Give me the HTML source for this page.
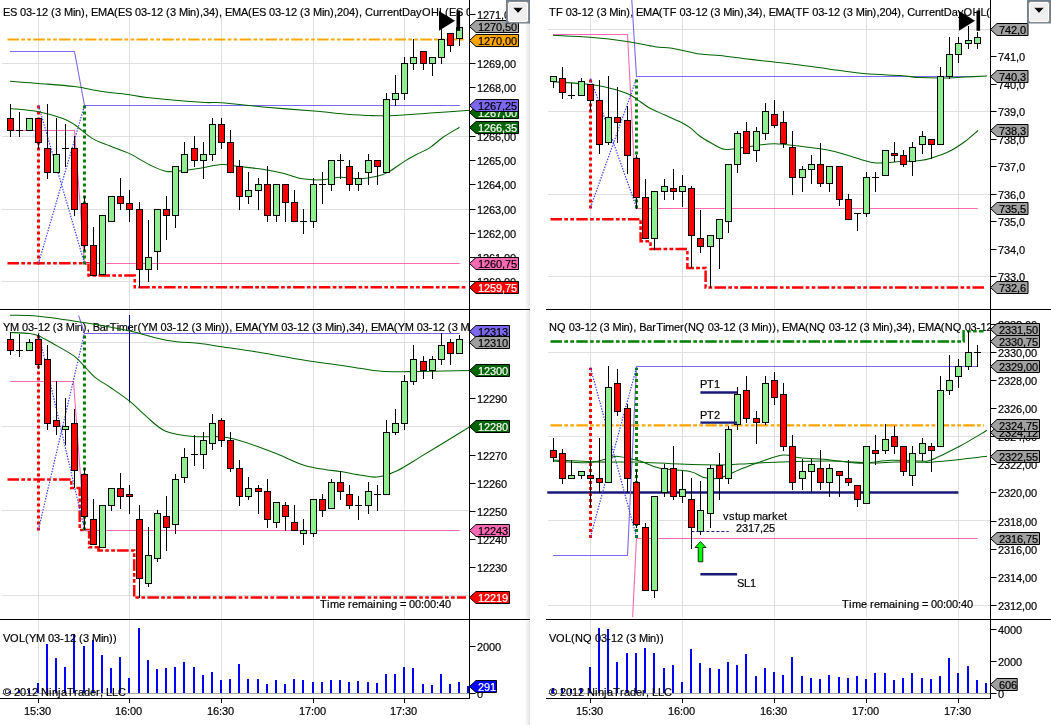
<!DOCTYPE html>
<html><head><meta charset="utf-8"><title>NinjaTrader charts</title>
<style>
html,body{margin:0;padding:0;background:#fff;overflow:hidden;}
svg{display:block;}
text{font-family:'Liberation Sans', Arial, sans-serif;}
</style></head>
<body>
<svg width="1051" height="725" viewBox="0 0 1051 725" font-family="'Liberation Sans', Arial, sans-serif" shape-rendering="auto">
<defs>
<clipPath id="cES"><rect x="0" y="0" width="469.5" height="309"/></clipPath>
<clipPath id="cYM"><rect x="0" y="310" width="469.5" height="309"/></clipPath>
<clipPath id="cTF"><rect x="546" y="0" width="444.5" height="309"/></clipPath>
<clipPath id="cNQ"><rect x="546" y="310" width="444.5" height="307"/></clipPath>
<linearGradient id="sh" x1="0" x2="1" y1="0" y2="0"><stop offset="0" stop-color="#fff"/><stop offset="1" stop-color="#e2e2e2"/></linearGradient>
</defs>
<rect x="0" y="0" width="1051" height="725" fill="#fff"/>
<rect x="525" y="0" width="5" height="725" fill="url(#sh)"/>
<g clip-path="url(#cES)">
<line x1="38.5" y1="16" x2="38.5" y2="309" stroke="#dfdfdf" stroke-width="1"/>
<line x1="129.5" y1="16" x2="129.5" y2="309" stroke="#dfdfdf" stroke-width="1"/>
<line x1="221.5" y1="16" x2="221.5" y2="309" stroke="#dfdfdf" stroke-width="1"/>
<line x1="313.5" y1="16" x2="313.5" y2="309" stroke="#dfdfdf" stroke-width="1"/>
<line x1="404.5" y1="16" x2="404.5" y2="309" stroke="#dfdfdf" stroke-width="1"/>
<line x1="2" y1="63.5" x2="469.5" y2="63.5" stroke="#dfdfdf" stroke-width="1"/>
<line x1="2" y1="136.5" x2="469.5" y2="136.5" stroke="#dfdfdf" stroke-width="1"/>
<line x1="2" y1="209.5" x2="469.5" y2="209.5" stroke="#dfdfdf" stroke-width="1"/>
<line x1="2" y1="281.5" x2="469.5" y2="281.5" stroke="#dfdfdf" stroke-width="1"/>
<text x="3 10 17 20 26 32 36 42 48 51 55 61 64 73 75 81 85 88 91 98 107 114 118 125 132 135 141 147 151 157 163 166 170 176 179 188 190 196 200 203 209 215 219 222 225 232 241 248 252 259 266 269 275 281 285 291 297 300 304 310 313 322 324 330 334 337 343 349 355 359 362 365 373 379 383 387 393 399 402 410 416 422 431 439 445 449 456 463 466 472 478 482 488 494 497 501 507 510 519 521 527 531" y="16" font-size="11" fill="#000" stroke="#000" stroke-width="0.18" >ES 03-12 (3 Min), EMA(ES 03-12 (3 Min),34), EMA(ES 03-12 (3 Min),204), CurrentDayOHL(ES 03-12 (3 Min))</text>
<line x1="7.5" y1="39.5" x2="466" y2="39.5" stroke="#ffa500" stroke-width="2.2" stroke-dasharray="11.5,2.3,3.7,2.3,3.7,2.3" stroke-linecap="butt"/>
<polyline points="7.5,263.3 88.5,263.3 88.5,275.5 134.7,275.5 134.7,287.3 466.0,287.3" fill="none" stroke="#ff0000" stroke-width="2.5" stroke-dasharray="11.5,2.3,3.7,2.3,3.7,2.3"/>
<polyline points="10.0,51.5 74.5,51.5 84.5,105.5 459.8,105.5" fill="none" stroke="#7b68ee" stroke-width="1.1" stroke-linejoin="round" />
<polyline points="10.0,130.5 74.5,130.5 84.5,263.5 459.8,263.5" fill="none" stroke="#ff69b4" stroke-width="1.1" stroke-linejoin="round" />
<line x1="38.5" y1="264.5" x2="38.5" y2="105.5" stroke="#ff0000" stroke-width="3" stroke-dasharray="3,3"/>
<line x1="84.5" y1="264.5" x2="84.5" y2="105.5" stroke="#008000" stroke-width="3" stroke-dasharray="3,3"/>
<line x1="38.5" y1="105.5" x2="84.5" y2="263.5" stroke="#3a3aff" stroke-width="1.2" stroke-dasharray="1.4,1.4"/>
<line x1="38.5" y1="263.5" x2="84.5" y2="105.5" stroke="#3a3aff" stroke-width="1.2" stroke-dasharray="1.4,1.4"/>
<path d="M10.0,81.3 C14.7,81.7 27.7,82.5 38.4,83.4 C49.1,84.3 63.7,85.2 74.4,86.6 C85.1,88.0 93.5,90.2 102.7,91.6 C111.9,93.0 122.2,93.8 129.6,94.8 C136.9,95.8 134.9,96.2 146.8,97.5 C158.8,98.8 188.8,101.4 201.3,102.3 C213.8,103.2 211.3,101.9 221.6,102.7 C231.9,103.5 247.6,105.5 262.9,106.9 C278.2,108.3 299.6,109.9 313.6,111.1 C327.6,112.3 337.4,113.5 346.8,114.3 C356.2,115.0 362.0,115.4 370.0,115.6 C378.0,115.8 385.0,116.0 395.0,115.6 C405.0,115.2 417.5,114.0 430.0,113.1 C442.5,112.2 463.3,110.7 470.0,110.2" fill="none" stroke="#006400" stroke-width="1.05"/>
<path d="M10.0,108.4 C14.7,109.0 29.6,110.0 38.4,111.7 C47.2,113.4 56.8,116.2 62.9,118.4 C69.0,120.6 70.1,121.7 75.0,125.0 C79.9,128.3 86.4,134.9 92.2,138.4 C98.0,141.9 103.8,143.5 110.0,146.0 C116.2,148.5 122.9,150.4 129.6,153.6 C136.3,156.8 143.8,162.0 150.0,165.0 C156.2,168.0 160.9,170.5 166.7,171.4 C172.5,172.3 179.4,170.8 185.0,170.3 C190.6,169.8 193.9,169.2 200.0,168.3 C206.1,167.4 215.0,164.9 221.6,164.6 C228.2,164.3 232.9,165.8 239.8,166.6 C246.7,167.4 255.5,168.2 262.9,169.3 C270.2,170.5 277.3,171.9 283.9,173.5 C290.5,175.1 296.4,177.8 302.7,178.8 C309.0,179.9 315.3,180.1 321.6,179.8 C327.9,179.6 334.2,177.5 340.5,177.3 C346.8,177.1 353.0,179.0 359.3,178.8 C365.6,178.6 373.3,177.2 378.2,176.1 C383.1,174.9 384.3,174.3 388.7,171.9 C393.1,169.5 399.8,164.3 404.4,161.4 C408.9,158.5 411.8,156.9 416.0,154.7 C420.2,152.4 425.1,150.8 429.6,147.9 C434.1,145.0 438.1,140.8 443.1,137.3 C448.1,133.9 456.8,128.9 459.5,127.2" fill="none" stroke="#006400" stroke-width="1.05"/>
<line x1="10.5" y1="104" x2="10.5" y2="137" stroke="#000" stroke-width="1"/>
<rect x="7.5" y="118.5" width="6" height="12" fill="#ff0000" stroke="#000" stroke-width="1"/>
<line x1="19.5" y1="112" x2="19.5" y2="137" stroke="#000" stroke-width="1"/>
<line x1="16" y1="130.5" x2="23" y2="130.5" stroke="#000" stroke-width="1"/>
<line x1="29.5" y1="118" x2="29.5" y2="131" stroke="#000" stroke-width="1"/>
<rect x="26.5" y="118.5" width="6" height="12" fill="#90ee90" stroke="#000" stroke-width="1"/>
<line x1="38.5" y1="118" x2="38.5" y2="149" stroke="#000" stroke-width="1"/>
<rect x="35.5" y="118.5" width="6" height="24" fill="#ff0000" stroke="#000" stroke-width="1"/>
<line x1="47.5" y1="104" x2="47.5" y2="179" stroke="#000" stroke-width="1"/>
<rect x="44.5" y="148.5" width="6" height="24" fill="#ff0000" stroke="#000" stroke-width="1"/>
<line x1="56.5" y1="118" x2="56.5" y2="173" stroke="#000" stroke-width="1"/>
<rect x="53.5" y="154.5" width="6" height="18" fill="#90ee90" stroke="#000" stroke-width="1"/>
<line x1="65.5" y1="124" x2="65.5" y2="167" stroke="#000" stroke-width="1"/>
<line x1="62" y1="148.5" x2="69" y2="148.5" stroke="#000" stroke-width="1"/>
<line x1="74.5" y1="136" x2="74.5" y2="216" stroke="#000" stroke-width="1"/>
<rect x="71.5" y="148.5" width="6" height="61" fill="#ff0000" stroke="#000" stroke-width="1"/>
<line x1="84.5" y1="196" x2="84.5" y2="251" stroke="#000" stroke-width="1"/>
<rect x="81.5" y="203.5" width="6" height="42" fill="#ff0000" stroke="#000" stroke-width="1"/>
<line x1="93.5" y1="227" x2="93.5" y2="276" stroke="#000" stroke-width="1"/>
<rect x="90.5" y="245.5" width="6" height="30" fill="#ff0000" stroke="#000" stroke-width="1"/>
<line x1="102.5" y1="215" x2="102.5" y2="275" stroke="#000" stroke-width="1"/>
<rect x="99.5" y="215.5" width="6" height="59" fill="#90ee90" stroke="#000" stroke-width="1"/>
<line x1="111.5" y1="196" x2="111.5" y2="222" stroke="#000" stroke-width="1"/>
<rect x="108.5" y="196.5" width="6" height="25" fill="#90ee90" stroke="#000" stroke-width="1"/>
<line x1="120.5" y1="178" x2="120.5" y2="210" stroke="#000" stroke-width="1"/>
<rect x="117.5" y="196.5" width="6" height="7" fill="#ff0000" stroke="#000" stroke-width="1"/>
<line x1="129.5" y1="190" x2="129.5" y2="222" stroke="#000" stroke-width="1"/>
<rect x="126.5" y="203.5" width="6" height="6" fill="#ff0000" stroke="#000" stroke-width="1"/>
<line x1="139.5" y1="202" x2="139.5" y2="288" stroke="#000" stroke-width="1"/>
<rect x="136.5" y="209.5" width="6" height="60" fill="#ff0000" stroke="#000" stroke-width="1"/>
<line x1="148.5" y1="220" x2="148.5" y2="282" stroke="#000" stroke-width="1"/>
<rect x="145.5" y="257.5" width="6" height="12" fill="#90ee90" stroke="#000" stroke-width="1"/>
<line x1="157.5" y1="209" x2="157.5" y2="270" stroke="#000" stroke-width="1"/>
<rect x="154.5" y="209.5" width="6" height="42" fill="#90ee90" stroke="#000" stroke-width="1"/>
<line x1="166.5" y1="196" x2="166.5" y2="240" stroke="#000" stroke-width="1"/>
<rect x="163.5" y="209.5" width="6" height="6" fill="#ff0000" stroke="#000" stroke-width="1"/>
<line x1="175.5" y1="166" x2="175.5" y2="228" stroke="#000" stroke-width="1"/>
<rect x="172.5" y="166.5" width="6" height="49" fill="#90ee90" stroke="#000" stroke-width="1"/>
<line x1="184.5" y1="142" x2="184.5" y2="173" stroke="#000" stroke-width="1"/>
<rect x="181.5" y="154.5" width="6" height="18" fill="#90ee90" stroke="#000" stroke-width="1"/>
<line x1="194.5" y1="136" x2="194.5" y2="167" stroke="#000" stroke-width="1"/>
<rect x="191.5" y="148.5" width="6" height="12" fill="#ff0000" stroke="#000" stroke-width="1"/>
<line x1="203.5" y1="142" x2="203.5" y2="179" stroke="#000" stroke-width="1"/>
<rect x="200.5" y="154.5" width="6" height="6" fill="#90ee90" stroke="#000" stroke-width="1"/>
<line x1="212.5" y1="118" x2="212.5" y2="161" stroke="#000" stroke-width="1"/>
<rect x="209.5" y="124.5" width="6" height="30" fill="#90ee90" stroke="#000" stroke-width="1"/>
<line x1="221.5" y1="118" x2="221.5" y2="149" stroke="#000" stroke-width="1"/>
<rect x="218.5" y="124.5" width="6" height="18" fill="#ff0000" stroke="#000" stroke-width="1"/>
<line x1="230.5" y1="130" x2="230.5" y2="173" stroke="#000" stroke-width="1"/>
<rect x="227.5" y="142.5" width="6" height="30" fill="#ff0000" stroke="#000" stroke-width="1"/>
<line x1="239.5" y1="160" x2="239.5" y2="210" stroke="#000" stroke-width="1"/>
<rect x="236.5" y="166.5" width="6" height="30" fill="#ff0000" stroke="#000" stroke-width="1"/>
<line x1="248.5" y1="172" x2="248.5" y2="204" stroke="#000" stroke-width="1"/>
<rect x="245.5" y="190.5" width="6" height="6" fill="#90ee90" stroke="#000" stroke-width="1"/>
<line x1="258.5" y1="178" x2="258.5" y2="210" stroke="#000" stroke-width="1"/>
<rect x="255.5" y="184.5" width="6" height="6" fill="#90ee90" stroke="#000" stroke-width="1"/>
<line x1="267.5" y1="166" x2="267.5" y2="222" stroke="#000" stroke-width="1"/>
<rect x="264.5" y="184.5" width="6" height="31" fill="#ff0000" stroke="#000" stroke-width="1"/>
<line x1="276.5" y1="184" x2="276.5" y2="222" stroke="#000" stroke-width="1"/>
<rect x="273.5" y="184.5" width="6" height="31" fill="#90ee90" stroke="#000" stroke-width="1"/>
<line x1="285.5" y1="184" x2="285.5" y2="222" stroke="#000" stroke-width="1"/>
<rect x="282.5" y="184.5" width="6" height="18" fill="#ff0000" stroke="#000" stroke-width="1"/>
<line x1="294.5" y1="190" x2="294.5" y2="222" stroke="#000" stroke-width="1"/>
<rect x="291.5" y="202.5" width="6" height="19" fill="#ff0000" stroke="#000" stroke-width="1"/>
<line x1="303.5" y1="209" x2="303.5" y2="234" stroke="#000" stroke-width="1"/>
<line x1="300" y1="221.5" x2="307" y2="221.5" stroke="#000" stroke-width="1"/>
<line x1="313.5" y1="178" x2="313.5" y2="228" stroke="#000" stroke-width="1"/>
<rect x="310.5" y="184.5" width="6" height="37" fill="#90ee90" stroke="#000" stroke-width="1"/>
<line x1="322.5" y1="172" x2="322.5" y2="204" stroke="#000" stroke-width="1"/>
<line x1="319" y1="184.5" x2="326" y2="184.5" stroke="#000" stroke-width="1"/>
<line x1="331.5" y1="160" x2="331.5" y2="191" stroke="#000" stroke-width="1"/>
<rect x="328.5" y="160.5" width="6" height="24" fill="#90ee90" stroke="#000" stroke-width="1"/>
<line x1="340.5" y1="154" x2="340.5" y2="179" stroke="#000" stroke-width="1"/>
<line x1="337" y1="160.5" x2="344" y2="160.5" stroke="#000" stroke-width="1"/>
<line x1="349.5" y1="160" x2="349.5" y2="191" stroke="#000" stroke-width="1"/>
<rect x="346.5" y="166.5" width="6" height="18" fill="#ff0000" stroke="#000" stroke-width="1"/>
<line x1="358.5" y1="172" x2="358.5" y2="191" stroke="#000" stroke-width="1"/>
<rect x="355.5" y="178.5" width="6" height="6" fill="#90ee90" stroke="#000" stroke-width="1"/>
<line x1="368.5" y1="154" x2="368.5" y2="185" stroke="#000" stroke-width="1"/>
<rect x="365.5" y="160.5" width="6" height="12" fill="#90ee90" stroke="#000" stroke-width="1"/>
<line x1="377.5" y1="160" x2="377.5" y2="185" stroke="#000" stroke-width="1"/>
<rect x="374.5" y="160.5" width="6" height="6" fill="#ff0000" stroke="#000" stroke-width="1"/>
<line x1="386.5" y1="93" x2="386.5" y2="173" stroke="#000" stroke-width="1"/>
<rect x="383.5" y="99.5" width="6" height="73" fill="#90ee90" stroke="#000" stroke-width="1"/>
<line x1="395.5" y1="75" x2="395.5" y2="106" stroke="#000" stroke-width="1"/>
<rect x="392.5" y="93.5" width="6" height="6" fill="#90ee90" stroke="#000" stroke-width="1"/>
<line x1="404.5" y1="57" x2="404.5" y2="100" stroke="#000" stroke-width="1"/>
<rect x="401.5" y="63.5" width="6" height="30" fill="#90ee90" stroke="#000" stroke-width="1"/>
<line x1="413.5" y1="39" x2="413.5" y2="70" stroke="#000" stroke-width="1"/>
<rect x="410.5" y="57.5" width="6" height="6" fill="#90ee90" stroke="#000" stroke-width="1"/>
<line x1="423.5" y1="51" x2="423.5" y2="70" stroke="#000" stroke-width="1"/>
<rect x="420.5" y="51.5" width="6" height="12" fill="#ff0000" stroke="#000" stroke-width="1"/>
<line x1="432.5" y1="57" x2="432.5" y2="76" stroke="#000" stroke-width="1"/>
<rect x="429.5" y="57.5" width="6" height="6" fill="#90ee90" stroke="#000" stroke-width="1"/>
<line x1="441.5" y1="29" x2="441.5" y2="64" stroke="#000" stroke-width="1"/>
<rect x="438.5" y="39.5" width="6" height="18" fill="#90ee90" stroke="#000" stroke-width="1"/>
<line x1="450.5" y1="33" x2="450.5" y2="52" stroke="#000" stroke-width="1"/>
<rect x="447.5" y="33.5" width="6" height="12" fill="#ff0000" stroke="#000" stroke-width="1"/>
<line x1="459.5" y1="20" x2="459.5" y2="46" stroke="#000" stroke-width="1"/>
<rect x="456.5" y="27.5" width="6" height="11" fill="#90ee90" stroke="#000" stroke-width="1"/>
<polygon points="439,11.0 455,20.65 439,30.8" fill="#000"/>
<rect x="456.5" y="10.5" width="3.6" height="20.3" fill="#000"/>
</g>
<g clip-path="url(#cYM)">
<line x1="38.5" y1="310" x2="38.5" y2="619" stroke="#dfdfdf" stroke-width="1"/>
<line x1="129.5" y1="310" x2="129.5" y2="619" stroke="#dfdfdf" stroke-width="1"/>
<line x1="221.5" y1="310" x2="221.5" y2="619" stroke="#dfdfdf" stroke-width="1"/>
<line x1="313.5" y1="310" x2="313.5" y2="619" stroke="#dfdfdf" stroke-width="1"/>
<line x1="404.5" y1="310" x2="404.5" y2="619" stroke="#dfdfdf" stroke-width="1"/>
<line x1="2" y1="342.5" x2="469.5" y2="342.5" stroke="#dfdfdf" stroke-width="1"/>
<line x1="2" y1="426.5" x2="469.5" y2="426.5" stroke="#dfdfdf" stroke-width="1"/>
<line x1="2" y1="510.5" x2="469.5" y2="510.5" stroke="#dfdfdf" stroke-width="1"/>
<line x1="2" y1="595.5" x2="469.5" y2="595.5" stroke="#dfdfdf" stroke-width="1"/>
<text x="3 9.98 18.95 21.94 27.92 33.91 37.89 43.88 49.86 52.85 56.84 62.82 65.81 74.78 76.78 82.76 86.75 89.74 92.73 99.71 105.69 109.68 116.66 118.65 127.62 133.61 137.59 141.58 148.56 157.54 160.53 166.51 172.49 176.48 182.46 188.44 191.43 195.42 201.4 204.39 213.37 215.36 221.34 225.33 229.32 232.31 235.3 242.28 251.25 258.23 262.22 269.2 278.17 281.16 287.15 293.13 297.12 303.1 309.08 312.07 316.06 322.04 325.03 334 336 341.98 345.97 348.96 354.94 360.92 364.91 367.9 370.89 377.87 386.85 393.82 397.81 404.79 413.76 416.76 422.74 428.72 432.71 438.69 444.67 447.66 451.65 457.63 460.62 469.6 471.59 477.57 481.56 484.55 490.53 496.52 502.5 506.49 509.48 512.47 520.44 526.43 530.41 534.4 540.38 546.37 549.36 557.33 563.31 569.3 578.27 586.25 592.23 596.22 603.19 612.17 615.16 621.14 627.12 631.11 637.09 643.07 646.07 650.05 656.04 659.03 668 669.99 675.98 679.96" y="331" font-size="11" fill="#000" stroke="#000" stroke-width="0.18" >YM 03-12 (3 Min), BarTimer(YM 03-12 (3 Min)), EMA(YM 03-12 (3 Min),34), EMA(YM 03-12 (3 Min),204), CurrentDayOHL(YM 03-12 (3 Min))</text>
<polyline points="7.5,479.5 71.3,479.5 71.3,487.9 79.7,487.9 79.7,530.0 89.1,530.0 89.1,547.2 98.5,547.2 98.5,550.4 134.2,550.4 134.2,597.6 466.0,597.6" fill="none" stroke="#ff0000" stroke-width="2.5" stroke-dasharray="11.5,2.3,3.7,2.3,3.7,2.3"/>
<polyline points="78.6,315.3 84.5,333.5 459.8,333.5" fill="none" stroke="#7b68ee" stroke-width="1.1" stroke-linejoin="round" />
<polyline points="10.0,381.5 73.5,381.5 84.5,530.5 459.8,530.5" fill="none" stroke="#ff69b4" stroke-width="1.1" stroke-linejoin="round" />
<line x1="38.5" y1="530.5" x2="38.5" y2="333" stroke="#ff0000" stroke-width="3" stroke-dasharray="3,3"/>
<line x1="84.5" y1="530.5" x2="84.5" y2="333" stroke="#008000" stroke-width="3" stroke-dasharray="3,3"/>
<line x1="38.5" y1="333" x2="84.5" y2="529.5" stroke="#3a3aff" stroke-width="1.2" stroke-dasharray="1.4,1.4"/>
<line x1="38.5" y1="529.5" x2="84.5" y2="333" stroke="#3a3aff" stroke-width="1.2" stroke-dasharray="1.4,1.4"/>
<line x1="129.5" y1="315" x2="129.5" y2="402.5" stroke="#000080" stroke-width="1"/>
<path d="M10.0,315.2 C14.7,315.4 26.1,315.1 38.4,316.3 C50.7,317.5 68.7,320.2 83.9,322.6 C99.1,325.1 115.6,328.0 129.6,331.0 C143.6,334.0 156.0,338.3 167.7,340.4 C179.4,342.5 191.0,342.4 200.0,343.5 C209.0,344.6 211.1,345.1 221.6,346.7 C232.1,348.3 249.0,350.7 262.9,353.0 C276.8,355.3 290.8,358.1 304.8,360.3 C318.8,362.5 334.9,364.4 346.8,366.2 C358.7,367.9 368.1,369.9 376.1,370.8 C384.1,371.7 387.7,371.7 395.0,371.8 C402.3,371.9 407.5,371.6 420.0,371.4 C432.5,371.2 461.7,370.6 470.0,370.4" fill="none" stroke="#006400" stroke-width="1.05"/>
<path d="M10.0,332.4 C13.2,332.6 24.7,332.9 29.4,333.5 C34.1,334.1 34.4,334.0 38.4,335.7 C42.4,337.4 47.3,340.4 53.3,343.8 C59.3,347.2 68.8,352.2 74.2,356.2 C79.6,360.2 82.1,364.1 85.6,367.6 C89.1,371.1 90.9,374.1 95.0,377.4 C99.1,380.7 104.2,383.2 110.0,387.2 C115.8,391.2 123.5,396.2 129.6,401.2 C135.7,406.1 140.8,411.9 146.8,416.9 C152.8,421.9 157.9,427.9 165.6,431.2 C173.3,434.4 183.6,435.5 192.9,436.4 C202.2,437.3 214.1,436.2 221.6,436.8 C229.1,437.4 230.8,438.1 237.7,440.0 C244.6,441.9 255.9,445.9 262.9,448.4 C269.9,450.9 272.7,452.1 279.7,455.0 C286.7,457.9 297.1,463.1 304.8,465.5 C312.5,467.9 319.9,468.7 325.8,469.7 C331.8,470.7 334.9,470.5 340.5,471.4 C346.1,472.3 353.2,474.0 359.3,474.9 C365.4,475.8 370.8,477.7 377.1,477.0 C383.4,476.3 389.9,474.0 397.0,470.7 C404.1,467.4 412.0,461.9 420.0,457.1 C428.0,452.3 436.7,447.1 445.0,442.0 C453.3,436.9 465.8,429.2 470.0,426.7" fill="none" stroke="#006400" stroke-width="1.05"/>
<line x1="10.5" y1="332" x2="10.5" y2="355" stroke="#000" stroke-width="1"/>
<rect x="7.5" y="339.5" width="6" height="11" fill="#ff0000" stroke="#000" stroke-width="1"/>
<line x1="19.5" y1="334" x2="19.5" y2="357" stroke="#000" stroke-width="1"/>
<line x1="16" y1="350.5" x2="23" y2="350.5" stroke="#000" stroke-width="1"/>
<line x1="29.5" y1="339" x2="29.5" y2="351" stroke="#000" stroke-width="1"/>
<rect x="26.5" y="342.5" width="6" height="8" fill="#90ee90" stroke="#000" stroke-width="1"/>
<line x1="38.5" y1="334" x2="38.5" y2="369" stroke="#000" stroke-width="1"/>
<rect x="35.5" y="339.5" width="6" height="25" fill="#ff0000" stroke="#000" stroke-width="1"/>
<line x1="47.5" y1="345" x2="47.5" y2="430" stroke="#000" stroke-width="1"/>
<rect x="44.5" y="359.5" width="6" height="64" fill="#ff0000" stroke="#000" stroke-width="1"/>
<line x1="56.5" y1="381" x2="56.5" y2="435" stroke="#000" stroke-width="1"/>
<rect x="53.5" y="420.5" width="6" height="6" fill="#ff0000" stroke="#000" stroke-width="1"/>
<line x1="65.5" y1="398" x2="65.5" y2="445" stroke="#000" stroke-width="1"/>
<rect x="62.5" y="426.5" width="6" height="3" fill="#90ee90" stroke="#000" stroke-width="1"/>
<line x1="74.5" y1="409" x2="74.5" y2="488" stroke="#000" stroke-width="1"/>
<rect x="71.5" y="423.5" width="6" height="47" fill="#ff0000" stroke="#000" stroke-width="1"/>
<line x1="84.5" y1="468" x2="84.5" y2="530" stroke="#000" stroke-width="1"/>
<rect x="81.5" y="474.5" width="6" height="42" fill="#ff0000" stroke="#000" stroke-width="1"/>
<line x1="93.5" y1="499" x2="93.5" y2="545" stroke="#000" stroke-width="1"/>
<rect x="90.5" y="519.5" width="6" height="25" fill="#ff0000" stroke="#000" stroke-width="1"/>
<line x1="102.5" y1="505" x2="102.5" y2="548" stroke="#000" stroke-width="1"/>
<rect x="99.5" y="505.5" width="6" height="42" fill="#90ee90" stroke="#000" stroke-width="1"/>
<line x1="111.5" y1="488" x2="111.5" y2="511" stroke="#000" stroke-width="1"/>
<rect x="108.5" y="488.5" width="6" height="17" fill="#90ee90" stroke="#000" stroke-width="1"/>
<line x1="120.5" y1="473" x2="120.5" y2="509" stroke="#000" stroke-width="1"/>
<rect x="117.5" y="488.5" width="6" height="8" fill="#ff0000" stroke="#000" stroke-width="1"/>
<line x1="129.5" y1="485" x2="129.5" y2="514" stroke="#000" stroke-width="1"/>
<rect x="126.5" y="494.5" width="6" height="2" fill="#ff0000" stroke="#000" stroke-width="1"/>
<line x1="139.5" y1="505" x2="139.5" y2="598" stroke="#000" stroke-width="1"/>
<rect x="136.5" y="519.5" width="6" height="59" fill="#ff0000" stroke="#000" stroke-width="1"/>
<line x1="148.5" y1="527" x2="148.5" y2="587" stroke="#000" stroke-width="1"/>
<rect x="145.5" y="555.5" width="6" height="28" fill="#90ee90" stroke="#000" stroke-width="1"/>
<line x1="157.5" y1="510" x2="157.5" y2="562" stroke="#000" stroke-width="1"/>
<rect x="154.5" y="513.5" width="6" height="45" fill="#90ee90" stroke="#000" stroke-width="1"/>
<line x1="166.5" y1="496" x2="166.5" y2="551" stroke="#000" stroke-width="1"/>
<rect x="163.5" y="516.5" width="6" height="11" fill="#ff0000" stroke="#000" stroke-width="1"/>
<line x1="175.5" y1="474" x2="175.5" y2="534" stroke="#000" stroke-width="1"/>
<rect x="172.5" y="479.5" width="6" height="45" fill="#90ee90" stroke="#000" stroke-width="1"/>
<line x1="184.5" y1="448" x2="184.5" y2="483" stroke="#000" stroke-width="1"/>
<rect x="181.5" y="457.5" width="6" height="20" fill="#90ee90" stroke="#000" stroke-width="1"/>
<line x1="194.5" y1="435" x2="194.5" y2="466" stroke="#000" stroke-width="1"/>
<line x1="191" y1="454.5" x2="198" y2="454.5" stroke="#000" stroke-width="1"/>
<line x1="203.5" y1="432" x2="203.5" y2="469" stroke="#000" stroke-width="1"/>
<rect x="200.5" y="440.5" width="6" height="14" fill="#90ee90" stroke="#000" stroke-width="1"/>
<line x1="212.5" y1="414" x2="212.5" y2="450" stroke="#000" stroke-width="1"/>
<rect x="209.5" y="423.5" width="6" height="20" fill="#90ee90" stroke="#000" stroke-width="1"/>
<line x1="221.5" y1="418" x2="221.5" y2="447" stroke="#000" stroke-width="1"/>
<rect x="218.5" y="420.5" width="6" height="20" fill="#ff0000" stroke="#000" stroke-width="1"/>
<line x1="230.5" y1="432" x2="230.5" y2="472" stroke="#000" stroke-width="1"/>
<rect x="227.5" y="440.5" width="6" height="28" fill="#ff0000" stroke="#000" stroke-width="1"/>
<line x1="239.5" y1="460" x2="239.5" y2="506" stroke="#000" stroke-width="1"/>
<rect x="236.5" y="468.5" width="6" height="28" fill="#ff0000" stroke="#000" stroke-width="1"/>
<line x1="248.5" y1="477" x2="248.5" y2="500" stroke="#000" stroke-width="1"/>
<rect x="245.5" y="488.5" width="6" height="8" fill="#90ee90" stroke="#000" stroke-width="1"/>
<line x1="258.5" y1="485" x2="258.5" y2="514" stroke="#000" stroke-width="1"/>
<rect x="255.5" y="488.5" width="6" height="3" fill="#ff0000" stroke="#000" stroke-width="1"/>
<line x1="267.5" y1="479" x2="267.5" y2="528" stroke="#000" stroke-width="1"/>
<rect x="264.5" y="491.5" width="6" height="28" fill="#ff0000" stroke="#000" stroke-width="1"/>
<line x1="276.5" y1="502" x2="276.5" y2="528" stroke="#000" stroke-width="1"/>
<rect x="273.5" y="502.5" width="6" height="20" fill="#90ee90" stroke="#000" stroke-width="1"/>
<line x1="285.5" y1="502" x2="285.5" y2="531" stroke="#000" stroke-width="1"/>
<rect x="282.5" y="505.5" width="6" height="11" fill="#ff0000" stroke="#000" stroke-width="1"/>
<line x1="294.5" y1="505" x2="294.5" y2="531" stroke="#000" stroke-width="1"/>
<rect x="291.5" y="522.5" width="6" height="8" fill="#ff0000" stroke="#000" stroke-width="1"/>
<line x1="303.5" y1="519" x2="303.5" y2="545" stroke="#000" stroke-width="1"/>
<rect x="300.5" y="530.5" width="6" height="3" fill="#90ee90" stroke="#000" stroke-width="1"/>
<line x1="313.5" y1="499" x2="313.5" y2="537" stroke="#000" stroke-width="1"/>
<rect x="310.5" y="499.5" width="6" height="34" fill="#90ee90" stroke="#000" stroke-width="1"/>
<line x1="322.5" y1="494" x2="322.5" y2="517" stroke="#000" stroke-width="1"/>
<rect x="319.5" y="499.5" width="6" height="11" fill="#ff0000" stroke="#000" stroke-width="1"/>
<line x1="331.5" y1="479" x2="331.5" y2="509" stroke="#000" stroke-width="1"/>
<rect x="328.5" y="482.5" width="6" height="26" fill="#90ee90" stroke="#000" stroke-width="1"/>
<line x1="340.5" y1="471" x2="340.5" y2="500" stroke="#000" stroke-width="1"/>
<rect x="337.5" y="482.5" width="6" height="9" fill="#ff0000" stroke="#000" stroke-width="1"/>
<line x1="349.5" y1="485" x2="349.5" y2="509" stroke="#000" stroke-width="1"/>
<rect x="346.5" y="494.5" width="6" height="11" fill="#ff0000" stroke="#000" stroke-width="1"/>
<line x1="358.5" y1="496" x2="358.5" y2="520" stroke="#000" stroke-width="1"/>
<line x1="355" y1="505.5" x2="362" y2="505.5" stroke="#000" stroke-width="1"/>
<line x1="368.5" y1="482" x2="368.5" y2="514" stroke="#000" stroke-width="1"/>
<rect x="365.5" y="491.5" width="6" height="14" fill="#90ee90" stroke="#000" stroke-width="1"/>
<line x1="377.5" y1="485" x2="377.5" y2="511" stroke="#000" stroke-width="1"/>
<line x1="374" y1="494.5" x2="381" y2="494.5" stroke="#000" stroke-width="1"/>
<line x1="386.5" y1="420" x2="386.5" y2="495" stroke="#000" stroke-width="1"/>
<rect x="383.5" y="432.5" width="6" height="62" fill="#90ee90" stroke="#000" stroke-width="1"/>
<line x1="395.5" y1="409" x2="395.5" y2="435" stroke="#000" stroke-width="1"/>
<rect x="392.5" y="423.5" width="6" height="9" fill="#90ee90" stroke="#000" stroke-width="1"/>
<line x1="404.5" y1="375" x2="404.5" y2="430" stroke="#000" stroke-width="1"/>
<rect x="401.5" y="381.5" width="6" height="42" fill="#90ee90" stroke="#000" stroke-width="1"/>
<line x1="413.5" y1="345" x2="413.5" y2="385" stroke="#000" stroke-width="1"/>
<rect x="410.5" y="359.5" width="6" height="22" fill="#90ee90" stroke="#000" stroke-width="1"/>
<line x1="423.5" y1="356" x2="423.5" y2="379" stroke="#000" stroke-width="1"/>
<rect x="420.5" y="361.5" width="6" height="9" fill="#ff0000" stroke="#000" stroke-width="1"/>
<line x1="432.5" y1="356" x2="432.5" y2="379" stroke="#000" stroke-width="1"/>
<rect x="429.5" y="359.5" width="6" height="11" fill="#90ee90" stroke="#000" stroke-width="1"/>
<line x1="441.5" y1="333" x2="441.5" y2="365" stroke="#000" stroke-width="1"/>
<rect x="438.5" y="345.5" width="6" height="14" fill="#90ee90" stroke="#000" stroke-width="1"/>
<line x1="450.5" y1="339" x2="450.5" y2="365" stroke="#000" stroke-width="1"/>
<rect x="447.5" y="342.5" width="6" height="11" fill="#ff0000" stroke="#000" stroke-width="1"/>
<line x1="459.5" y1="335" x2="459.5" y2="354" stroke="#000" stroke-width="1"/>
<rect x="456.5" y="339.5" width="6" height="14" fill="#90ee90" stroke="#000" stroke-width="1"/>
<text x="320 327 330 339 345 348 352 358 367 373 376 382 385 391 397 400 406 409 415 421 424 430 436 439 445" y="608" font-size="11" fill="#000" stroke="#000" stroke-width="0.18" >Time remaining = 00:00:40</text>
</g>
<g clip-path="url(#cTF)">
<line x1="590.5" y1="16" x2="590.5" y2="309" stroke="#dfdfdf" stroke-width="1"/>
<line x1="682.5" y1="16" x2="682.5" y2="309" stroke="#dfdfdf" stroke-width="1"/>
<line x1="774.5" y1="16" x2="774.5" y2="309" stroke="#dfdfdf" stroke-width="1"/>
<line x1="866.5" y1="16" x2="866.5" y2="309" stroke="#dfdfdf" stroke-width="1"/>
<line x1="958.5" y1="16" x2="958.5" y2="309" stroke="#dfdfdf" stroke-width="1"/>
<line x1="548" y1="29.5" x2="990.5" y2="29.5" stroke="#dfdfdf" stroke-width="1"/>
<line x1="548" y1="111.5" x2="990.5" y2="111.5" stroke="#dfdfdf" stroke-width="1"/>
<line x1="548" y1="194.5" x2="990.5" y2="194.5" stroke="#dfdfdf" stroke-width="1"/>
<line x1="548" y1="276.5" x2="990.5" y2="276.5" stroke="#dfdfdf" stroke-width="1"/>
<text x="549 555.93 562.85 565.82 571.76 577.7 581.65 587.59 593.53 596.5 600.45 606.39 609.36 618.26 620.24 626.18 630.14 633.11 636.08 643 651.91 658.83 662.79 669.72 676.65 679.61 685.55 691.49 695.45 701.38 707.32 710.29 714.25 720.18 723.15 732.06 734.04 739.97 743.93 746.9 752.84 758.77 762.73 765.7 768.67 775.6 784.5 791.43 795.39 802.31 809.24 812.21 818.14 824.08 828.04 833.98 839.91 842.88 846.84 852.78 855.74 864.65 866.63 872.57 876.52 879.49 885.43 891.37 897.3 901.26 904.23 907.2 915.11 921.05 925.01 928.97 934.9 940.84 943.81 951.73 957.66 963.6 972.51 980.42 986.36 990.32 997.24 1004.17 1007.14 1013.08 1019.01 1022.97 1028.91 1034.84 1037.81 1041.77 1047.71 1050.68 1059.58 1061.56 1067.5 1071.46" y="16" font-size="11" fill="#000" stroke="#000" stroke-width="0.18" >TF 03-12 (3 Min), EMA(TF 03-12 (3 Min),34), EMA(TF 03-12 (3 Min),204), CurrentDayOHL(TF 03-12 (3 Min))</text>
<polyline points="550.5,219.2 640.6,219.2 640.6,241.3 650.5,241.3 650.5,249.0 687.4,249.0 687.4,267.9 705.6,267.9 705.6,287.4 984.0,287.4" fill="none" stroke="#ff0000" stroke-width="2.5" stroke-dasharray="11.5,2.3,3.7,2.3,3.7,2.3"/>
<polyline points="631.5,-5.0 636.5,76.5 977.8,76.5" fill="none" stroke="#7b68ee" stroke-width="1.1" stroke-linejoin="round" />
<polyline points="553.0,34.5 627.5,34.5 636.5,208.5 977.8,208.5" fill="none" stroke="#ff69b4" stroke-width="1.1" stroke-linejoin="round" />
<line x1="590.5" y1="208.5" x2="590.5" y2="78.5" stroke="#ff0000" stroke-width="3" stroke-dasharray="3,3"/>
<line x1="636.5" y1="208.5" x2="636.5" y2="78.5" stroke="#008000" stroke-width="3" stroke-dasharray="3,3"/>
<line x1="590.5" y1="78.5" x2="636.5" y2="207.5" stroke="#3a3aff" stroke-width="1.2" stroke-dasharray="1.4,1.4"/>
<line x1="590.5" y1="207.5" x2="636.5" y2="78.5" stroke="#3a3aff" stroke-width="1.2" stroke-dasharray="1.4,1.4"/>
<path d="M553.0,35.2 C559.2,35.6 577.7,36.2 590.0,37.3 C602.3,38.3 616.2,39.9 627.0,41.5 C637.8,43.1 647.5,45.6 655.0,46.7 C662.5,47.8 664.5,47.0 672.0,48.2 C679.5,49.4 692.0,52.8 700.0,54.0 C708.0,55.2 712.5,54.7 720.0,55.5 C727.5,56.3 736.7,57.7 745.0,58.7 C753.3,59.7 760.8,60.6 770.0,61.6 C779.2,62.6 790.0,63.7 800.0,65.0 C810.0,66.3 819.0,67.7 830.0,69.2 C841.0,70.7 854.3,72.8 866.0,73.8 C877.7,74.8 891.0,74.9 900.0,75.5 C909.0,76.1 912.5,77.2 920.0,77.6 C927.5,78.0 937.5,78.1 945.0,78.0 C952.5,77.9 958.0,77.3 965.0,77.0 C972.0,76.7 983.3,76.2 987.0,76.0" fill="none" stroke="#006400" stroke-width="1.05"/>
<path d="M553.0,81.8 C557.5,82.1 572.2,82.9 580.0,83.6 C587.8,84.3 593.3,84.9 600.0,86.1 C606.7,87.3 615.0,89.5 620.0,90.9 C625.0,92.4 626.7,93.0 630.0,94.8 C633.3,96.6 636.7,99.2 640.0,101.5 C643.3,103.8 645.8,106.0 650.0,108.3 C654.2,110.6 660.0,112.8 665.0,115.1 C670.0,117.3 675.8,119.7 680.0,121.8 C684.2,123.9 686.7,125.2 690.0,127.6 C693.3,130.0 696.3,133.7 700.0,136.3 C703.7,139.0 707.9,141.3 712.0,143.5 C716.1,145.7 719.8,148.6 724.5,149.3 C729.2,150.1 734.1,148.7 740.0,148.0 C745.9,147.3 754.2,145.7 760.0,145.0 C765.8,144.3 768.3,143.6 775.0,143.8 C781.7,144.0 790.8,145.2 800.0,146.3 C809.2,147.4 821.7,148.9 830.0,150.5 C838.3,152.1 842.7,153.9 850.0,156.0 C857.3,158.1 865.7,161.9 874.0,162.8 C882.3,163.7 892.3,161.9 900.0,161.5 C907.7,161.1 914.8,161.1 920.0,160.5 C925.2,159.9 926.0,159.8 931.0,158.2 C936.0,156.6 944.3,153.8 950.0,151.0 C955.7,148.2 960.3,144.9 965.0,141.5 C969.7,138.1 975.8,132.3 978.0,130.5" fill="none" stroke="#006400" stroke-width="1.05"/>
<line x1="553.5" y1="76" x2="553.5" y2="88" stroke="#000" stroke-width="1"/>
<rect x="550.5" y="76.5" width="6" height="5" fill="#90ee90" stroke="#000" stroke-width="1"/>
<line x1="562.5" y1="67" x2="562.5" y2="99" stroke="#000" stroke-width="1"/>
<rect x="559.5" y="78.5" width="6" height="14" fill="#ff0000" stroke="#000" stroke-width="1"/>
<line x1="571.5" y1="83" x2="571.5" y2="99" stroke="#000" stroke-width="1"/>
<line x1="568" y1="95.5" x2="575" y2="95.5" stroke="#000" stroke-width="1"/>
<line x1="581.5" y1="78" x2="581.5" y2="96" stroke="#000" stroke-width="1"/>
<rect x="578.5" y="81.5" width="6" height="14" fill="#90ee90" stroke="#000" stroke-width="1"/>
<line x1="590.5" y1="84" x2="590.5" y2="111" stroke="#000" stroke-width="1"/>
<rect x="587.5" y="84.5" width="6" height="16" fill="#ff0000" stroke="#000" stroke-width="1"/>
<line x1="599.5" y1="80" x2="599.5" y2="154" stroke="#000" stroke-width="1"/>
<rect x="596.5" y="100.5" width="6" height="44" fill="#ff0000" stroke="#000" stroke-width="1"/>
<line x1="608.5" y1="76" x2="608.5" y2="145" stroke="#000" stroke-width="1"/>
<rect x="605.5" y="117.5" width="6" height="25" fill="#90ee90" stroke="#000" stroke-width="1"/>
<line x1="617.5" y1="87" x2="617.5" y2="143" stroke="#000" stroke-width="1"/>
<rect x="614.5" y="117.5" width="6" height="5" fill="#ff0000" stroke="#000" stroke-width="1"/>
<line x1="627.5" y1="106" x2="627.5" y2="174" stroke="#000" stroke-width="1"/>
<rect x="624.5" y="120.5" width="6" height="35" fill="#ff0000" stroke="#000" stroke-width="1"/>
<line x1="636.5" y1="155" x2="636.5" y2="209" stroke="#000" stroke-width="1"/>
<rect x="633.5" y="158.5" width="6" height="39" fill="#ff0000" stroke="#000" stroke-width="1"/>
<line x1="645.5" y1="179" x2="645.5" y2="239" stroke="#000" stroke-width="1"/>
<rect x="642.5" y="197.5" width="6" height="41" fill="#ff0000" stroke="#000" stroke-width="1"/>
<line x1="654.5" y1="191" x2="654.5" y2="250" stroke="#000" stroke-width="1"/>
<rect x="651.5" y="191.5" width="6" height="47" fill="#90ee90" stroke="#000" stroke-width="1"/>
<line x1="664.5" y1="179" x2="664.5" y2="200" stroke="#000" stroke-width="1"/>
<rect x="661.5" y="186.5" width="6" height="5" fill="#90ee90" stroke="#000" stroke-width="1"/>
<line x1="673.5" y1="169" x2="673.5" y2="200" stroke="#000" stroke-width="1"/>
<rect x="670.5" y="188.5" width="6" height="3" fill="#ff0000" stroke="#000" stroke-width="1"/>
<line x1="682.5" y1="175" x2="682.5" y2="207" stroke="#000" stroke-width="1"/>
<rect x="679.5" y="186.5" width="6" height="5" fill="#90ee90" stroke="#000" stroke-width="1"/>
<line x1="691.5" y1="186" x2="691.5" y2="268" stroke="#000" stroke-width="1"/>
<rect x="688.5" y="188.5" width="6" height="47" fill="#ff0000" stroke="#000" stroke-width="1"/>
<line x1="700.5" y1="210" x2="700.5" y2="253" stroke="#000" stroke-width="1"/>
<rect x="697.5" y="238.5" width="6" height="8" fill="#ff0000" stroke="#000" stroke-width="1"/>
<line x1="710.5" y1="235" x2="710.5" y2="288" stroke="#000" stroke-width="1"/>
<rect x="707.5" y="235.5" width="6" height="11" fill="#90ee90" stroke="#000" stroke-width="1"/>
<line x1="719.5" y1="219" x2="719.5" y2="269" stroke="#000" stroke-width="1"/>
<rect x="716.5" y="219.5" width="6" height="19" fill="#90ee90" stroke="#000" stroke-width="1"/>
<line x1="728.5" y1="164" x2="728.5" y2="233" stroke="#000" stroke-width="1"/>
<rect x="725.5" y="164.5" width="6" height="57" fill="#90ee90" stroke="#000" stroke-width="1"/>
<line x1="737.5" y1="131" x2="737.5" y2="173" stroke="#000" stroke-width="1"/>
<rect x="734.5" y="133.5" width="6" height="31" fill="#90ee90" stroke="#000" stroke-width="1"/>
<line x1="746.5" y1="122" x2="746.5" y2="154" stroke="#000" stroke-width="1"/>
<rect x="743.5" y="131.5" width="6" height="22" fill="#ff0000" stroke="#000" stroke-width="1"/>
<line x1="756.5" y1="127" x2="756.5" y2="162" stroke="#000" stroke-width="1"/>
<rect x="753.5" y="131.5" width="6" height="19" fill="#90ee90" stroke="#000" stroke-width="1"/>
<line x1="765.5" y1="103" x2="765.5" y2="140" stroke="#000" stroke-width="1"/>
<rect x="762.5" y="111.5" width="6" height="22" fill="#90ee90" stroke="#000" stroke-width="1"/>
<line x1="774.5" y1="100" x2="774.5" y2="128" stroke="#000" stroke-width="1"/>
<rect x="771.5" y="114.5" width="6" height="11" fill="#ff0000" stroke="#000" stroke-width="1"/>
<line x1="783.5" y1="111" x2="783.5" y2="148" stroke="#000" stroke-width="1"/>
<rect x="780.5" y="122.5" width="6" height="21" fill="#ff0000" stroke="#000" stroke-width="1"/>
<line x1="792.5" y1="131" x2="792.5" y2="195" stroke="#000" stroke-width="1"/>
<rect x="789.5" y="147.5" width="6" height="30" fill="#ff0000" stroke="#000" stroke-width="1"/>
<line x1="802.5" y1="166" x2="802.5" y2="192" stroke="#000" stroke-width="1"/>
<rect x="799.5" y="169.5" width="6" height="8" fill="#90ee90" stroke="#000" stroke-width="1"/>
<line x1="811.5" y1="155" x2="811.5" y2="184" stroke="#000" stroke-width="1"/>
<rect x="808.5" y="164.5" width="6" height="5" fill="#90ee90" stroke="#000" stroke-width="1"/>
<line x1="820.5" y1="143" x2="820.5" y2="187" stroke="#000" stroke-width="1"/>
<rect x="817.5" y="164.5" width="6" height="19" fill="#ff0000" stroke="#000" stroke-width="1"/>
<line x1="829.5" y1="166" x2="829.5" y2="192" stroke="#000" stroke-width="1"/>
<rect x="826.5" y="166.5" width="6" height="17" fill="#90ee90" stroke="#000" stroke-width="1"/>
<line x1="839.5" y1="166" x2="839.5" y2="206" stroke="#000" stroke-width="1"/>
<rect x="836.5" y="166.5" width="6" height="33" fill="#ff0000" stroke="#000" stroke-width="1"/>
<line x1="848.5" y1="194" x2="848.5" y2="220" stroke="#000" stroke-width="1"/>
<rect x="845.5" y="199.5" width="6" height="20" fill="#ff0000" stroke="#000" stroke-width="1"/>
<line x1="857.5" y1="213" x2="857.5" y2="231" stroke="#000" stroke-width="1"/>
<line x1="854" y1="213.5" x2="861" y2="213.5" stroke="#000" stroke-width="1"/>
<line x1="866.5" y1="172" x2="866.5" y2="217" stroke="#000" stroke-width="1"/>
<rect x="863.5" y="177.5" width="6" height="36" fill="#90ee90" stroke="#000" stroke-width="1"/>
<line x1="875.5" y1="172" x2="875.5" y2="192" stroke="#000" stroke-width="1"/>
<line x1="872" y1="177.5" x2="879" y2="177.5" stroke="#000" stroke-width="1"/>
<line x1="885.5" y1="150" x2="885.5" y2="176" stroke="#000" stroke-width="1"/>
<rect x="882.5" y="150.5" width="6" height="25" fill="#90ee90" stroke="#000" stroke-width="1"/>
<line x1="894.5" y1="142" x2="894.5" y2="162" stroke="#000" stroke-width="1"/>
<rect x="891.5" y="153.5" width="6" height="2" fill="#ff0000" stroke="#000" stroke-width="1"/>
<line x1="903.5" y1="150" x2="903.5" y2="167" stroke="#000" stroke-width="1"/>
<rect x="900.5" y="155.5" width="6" height="9" fill="#ff0000" stroke="#000" stroke-width="1"/>
<line x1="912.5" y1="142" x2="912.5" y2="176" stroke="#000" stroke-width="1"/>
<rect x="909.5" y="147.5" width="6" height="14" fill="#90ee90" stroke="#000" stroke-width="1"/>
<line x1="922.5" y1="131" x2="922.5" y2="154" stroke="#000" stroke-width="1"/>
<rect x="919.5" y="136.5" width="6" height="8" fill="#90ee90" stroke="#000" stroke-width="1"/>
<line x1="931.5" y1="139" x2="931.5" y2="159" stroke="#000" stroke-width="1"/>
<rect x="928.5" y="139.5" width="6" height="5" fill="#ff0000" stroke="#000" stroke-width="1"/>
<line x1="940.5" y1="67" x2="940.5" y2="145" stroke="#000" stroke-width="1"/>
<rect x="937.5" y="76.5" width="6" height="68" fill="#90ee90" stroke="#000" stroke-width="1"/>
<line x1="949.5" y1="37" x2="949.5" y2="79" stroke="#000" stroke-width="1"/>
<rect x="946.5" y="54.5" width="6" height="22" fill="#90ee90" stroke="#000" stroke-width="1"/>
<line x1="958.5" y1="37" x2="958.5" y2="63" stroke="#000" stroke-width="1"/>
<rect x="955.5" y="43.5" width="6" height="11" fill="#90ee90" stroke="#000" stroke-width="1"/>
<line x1="968.5" y1="26" x2="968.5" y2="49" stroke="#000" stroke-width="1"/>
<rect x="965.5" y="40.5" width="6" height="3" fill="#90ee90" stroke="#000" stroke-width="1"/>
<line x1="977.5" y1="32" x2="977.5" y2="49" stroke="#000" stroke-width="1"/>
<rect x="974.5" y="37.5" width="6" height="6" fill="#90ee90" stroke="#000" stroke-width="1"/>
<polygon points="959,11.0 975,20.65 959,30.8" fill="#000"/>
<rect x="976.5" y="10.5" width="3.6" height="20.3" fill="#000"/>
</g>
<g clip-path="url(#cNQ)">
<line x1="590.5" y1="310" x2="590.5" y2="619" stroke="#dfdfdf" stroke-width="1"/>
<line x1="682.5" y1="310" x2="682.5" y2="619" stroke="#dfdfdf" stroke-width="1"/>
<line x1="774.5" y1="310" x2="774.5" y2="619" stroke="#dfdfdf" stroke-width="1"/>
<line x1="866.5" y1="310" x2="866.5" y2="619" stroke="#dfdfdf" stroke-width="1"/>
<line x1="958.5" y1="310" x2="958.5" y2="619" stroke="#dfdfdf" stroke-width="1"/>
<line x1="548" y1="352.5" x2="990.5" y2="352.5" stroke="#dfdfdf" stroke-width="1"/>
<line x1="548" y1="436.5" x2="990.5" y2="436.5" stroke="#dfdfdf" stroke-width="1"/>
<line x1="548" y1="520.5" x2="990.5" y2="520.5" stroke="#dfdfdf" stroke-width="1"/>
<line x1="548" y1="605.5" x2="990.5" y2="605.5" stroke="#dfdfdf" stroke-width="1"/>
<text x="549 556.94 565.86 568.84 574.79 580.74 584.71 590.66 596.62 599.59 603.56 609.51 612.49 621.42 623.4 629.35 633.32 636.3 639.27 646.22 652.17 656.14 663.08 665.06 673.99 679.94 683.91 687.88 695.82 704.74 707.72 713.67 719.62 723.59 729.54 735.5 738.47 742.44 748.39 751.37 760.3 762.28 768.23 772.2 776.17 779.14 782.12 789.06 797.99 804.94 808.9 816.84 825.77 828.74 834.7 840.65 844.62 850.57 856.52 859.5 863.46 869.42 872.39 881.32 883.3 889.26 893.22 896.2 902.15 908.1 912.07 915.05 918.02 924.97 933.9 940.84 944.81 952.74 961.67 964.65 970.6 976.55 980.52 986.47 992.42 995.4 999.37 1005.32 1008.3 1017.22 1019.21 1025.16 1029.13 1032.1 1038.06 1044.01 1049.96 1053.93 1056.9 1059.88 1067.82 1073.77 1077.74 1081.7 1087.66 1093.61 1096.58 1104.52 1110.47 1116.42 1125.35 1133.29 1139.24 1143.21 1151.14 1160.07 1163.05 1169 1174.95 1178.92 1184.87 1190.82 1193.8 1197.77 1203.72 1206.7 1215.62 1217.61 1223.56 1227.53" y="331" font-size="11" fill="#000" stroke="#000" stroke-width="0.18" >NQ 03-12 (3 Min), BarTimer(NQ 03-12 (3 Min)), EMA(NQ 03-12 (3 Min),34), EMA(NQ 03-12 (3 Min),204), CurrentDayOHL(NQ 03-12 (3 Min))</text>
<polyline points="550.5,341.4 963.6,341.4 963.6,331.3 983.5,331.3" fill="none" stroke="#008000" stroke-width="2.5" stroke-dasharray="11.5,2.3,3.7,2.3,3.7,2.3"/>
<line x1="550.5" y1="425.3" x2="984" y2="425.3" stroke="#ffa500" stroke-width="2.2" stroke-dasharray="11.5,2.3,3.7,2.3,3.7,2.3" stroke-linecap="butt"/>
<line x1="547.3" y1="492.5" x2="958.4" y2="492.5" stroke="#191978" stroke-width="2.4" stroke-linecap="butt"/>
<polyline points="553.0,555.5 627.5,555.5 636.5,366.5 977.5,366.5" fill="none" stroke="#7b68ee" stroke-width="1.1" stroke-linejoin="round" />
<polyline points="631.5,640.0 636.5,538.5 977.5,538.5" fill="none" stroke="#ff69b4" stroke-width="1.1" stroke-linejoin="round" />
<line x1="590.5" y1="537.9" x2="590.5" y2="367.7" stroke="#ff0000" stroke-width="3" stroke-dasharray="3,3"/>
<line x1="636.5" y1="537.9" x2="636.5" y2="367.7" stroke="#008000" stroke-width="3" stroke-dasharray="3,3"/>
<line x1="590.5" y1="367.7" x2="636.5" y2="536.9" stroke="#3a3aff" stroke-width="1.2" stroke-dasharray="1.4,1.4"/>
<line x1="590.5" y1="536.9" x2="636.5" y2="367.7" stroke="#3a3aff" stroke-width="1.2" stroke-dasharray="1.4,1.4"/>
<path d="M553.0,459.9 C560.8,460.2 586.2,461.6 600.0,462.0 C613.8,462.4 622.7,461.6 636.0,462.0 C649.3,462.4 666.0,463.6 680.0,464.1 C694.0,464.6 710.0,465.0 720.0,465.0 C730.0,465.0 730.0,464.6 740.0,464.1 C750.0,463.6 765.0,462.5 780.0,462.0 C795.0,461.5 815.0,460.8 830.0,461.0 C845.0,461.2 859.2,462.8 870.0,463.0 C880.8,463.2 886.7,462.1 895.0,462.0 C903.3,461.9 914.0,462.2 920.0,462.2 C926.0,462.2 924.3,462.6 931.0,462.2 C937.7,461.8 950.7,460.5 960.0,459.5 C969.3,458.5 982.5,456.8 987.0,456.3" fill="none" stroke="#006400" stroke-width="1.05"/>
<path d="M553.0,461.0 C559.2,461.3 580.5,463.1 590.0,462.6 C599.5,462.1 605.3,458.8 610.0,457.8 C614.7,456.8 613.0,455.9 618.0,456.4 C623.0,456.9 633.0,459.0 640.0,461.0 C647.0,463.0 651.7,466.6 660.0,468.3 C668.3,470.0 682.5,469.8 690.0,471.4 C697.5,473.0 700.0,476.8 705.0,477.8 C710.0,478.9 714.2,479.1 720.0,477.7 C725.8,476.3 733.3,472.0 740.0,469.4 C746.7,466.8 752.8,464.4 760.0,462.0 C767.2,459.6 776.3,455.8 783.0,455.1 C789.7,454.4 792.2,457.0 800.0,457.8 C807.8,458.6 820.8,459.0 830.0,459.9 C839.2,460.8 848.3,462.7 855.0,463.1 C861.7,463.6 864.0,463.1 870.0,462.6 C876.0,462.1 882.7,460.6 891.0,460.3 C899.3,460.0 913.3,461.1 920.0,461.0 C926.7,460.9 924.3,462.5 931.0,460.0 C937.7,457.5 950.7,450.9 960.0,446.0 C969.3,441.1 982.5,432.9 987.0,430.3" fill="none" stroke="#006400" stroke-width="1.05"/>
<line x1="553.5" y1="438" x2="553.5" y2="462" stroke="#000" stroke-width="1"/>
<rect x="550.5" y="450.5" width="6" height="7" fill="#ff0000" stroke="#000" stroke-width="1"/>
<line x1="562.5" y1="449" x2="562.5" y2="484" stroke="#000" stroke-width="1"/>
<rect x="559.5" y="453.5" width="6" height="25" fill="#ff0000" stroke="#000" stroke-width="1"/>
<line x1="571.5" y1="460" x2="571.5" y2="479" stroke="#000" stroke-width="1"/>
<rect x="568.5" y="475.5" width="6" height="3" fill="#90ee90" stroke="#000" stroke-width="1"/>
<line x1="581.5" y1="471" x2="581.5" y2="479" stroke="#000" stroke-width="1"/>
<rect x="578.5" y="471.5" width="6" height="4" fill="#90ee90" stroke="#000" stroke-width="1"/>
<line x1="590.5" y1="460" x2="590.5" y2="508" stroke="#000" stroke-width="1"/>
<rect x="587.5" y="475.5" width="6" height="3" fill="#ff0000" stroke="#000" stroke-width="1"/>
<line x1="599.5" y1="438" x2="599.5" y2="493" stroke="#000" stroke-width="1"/>
<rect x="596.5" y="478.5" width="6" height="4" fill="#ff0000" stroke="#000" stroke-width="1"/>
<line x1="608.5" y1="366" x2="608.5" y2="483" stroke="#000" stroke-width="1"/>
<rect x="605.5" y="387.5" width="6" height="95" fill="#90ee90" stroke="#000" stroke-width="1"/>
<line x1="617.5" y1="369" x2="617.5" y2="416" stroke="#000" stroke-width="1"/>
<rect x="614.5" y="383.5" width="6" height="28" fill="#ff0000" stroke="#000" stroke-width="1"/>
<line x1="627.5" y1="404" x2="627.5" y2="493" stroke="#000" stroke-width="1"/>
<rect x="624.5" y="408.5" width="6" height="70" fill="#ff0000" stroke="#000" stroke-width="1"/>
<line x1="636.5" y1="470" x2="636.5" y2="528" stroke="#000" stroke-width="1"/>
<rect x="633.5" y="482.5" width="6" height="42" fill="#ff0000" stroke="#000" stroke-width="1"/>
<line x1="645.5" y1="523" x2="645.5" y2="591" stroke="#000" stroke-width="1"/>
<rect x="642.5" y="527.5" width="6" height="63" fill="#ff0000" stroke="#000" stroke-width="1"/>
<line x1="654.5" y1="496" x2="654.5" y2="598" stroke="#000" stroke-width="1"/>
<rect x="651.5" y="496.5" width="6" height="94" fill="#90ee90" stroke="#000" stroke-width="1"/>
<line x1="664.5" y1="464" x2="664.5" y2="497" stroke="#000" stroke-width="1"/>
<rect x="661.5" y="468.5" width="6" height="24" fill="#90ee90" stroke="#000" stroke-width="1"/>
<line x1="673.5" y1="446" x2="673.5" y2="500" stroke="#000" stroke-width="1"/>
<rect x="670.5" y="468.5" width="6" height="28" fill="#ff0000" stroke="#000" stroke-width="1"/>
<line x1="682.5" y1="471" x2="682.5" y2="503" stroke="#000" stroke-width="1"/>
<rect x="679.5" y="489.5" width="6" height="7" fill="#90ee90" stroke="#000" stroke-width="1"/>
<line x1="691.5" y1="478" x2="691.5" y2="549" stroke="#000" stroke-width="1"/>
<rect x="688.5" y="499.5" width="6" height="28" fill="#ff0000" stroke="#000" stroke-width="1"/>
<line x1="700.5" y1="481" x2="700.5" y2="535" stroke="#000" stroke-width="1"/>
<rect x="697.5" y="510.5" width="6" height="21" fill="#90ee90" stroke="#000" stroke-width="1"/>
<line x1="710.5" y1="465" x2="710.5" y2="528" stroke="#000" stroke-width="1"/>
<rect x="707.5" y="468.5" width="6" height="45" fill="#90ee90" stroke="#000" stroke-width="1"/>
<line x1="719.5" y1="453" x2="719.5" y2="500" stroke="#000" stroke-width="1"/>
<rect x="716.5" y="465.5" width="6" height="13" fill="#ff0000" stroke="#000" stroke-width="1"/>
<line x1="728.5" y1="426" x2="728.5" y2="484" stroke="#000" stroke-width="1"/>
<rect x="725.5" y="429.5" width="6" height="49" fill="#90ee90" stroke="#000" stroke-width="1"/>
<line x1="737.5" y1="387" x2="737.5" y2="430" stroke="#000" stroke-width="1"/>
<rect x="734.5" y="394.5" width="6" height="30" fill="#90ee90" stroke="#000" stroke-width="1"/>
<line x1="746.5" y1="376" x2="746.5" y2="423" stroke="#000" stroke-width="1"/>
<rect x="743.5" y="390.5" width="6" height="28" fill="#ff0000" stroke="#000" stroke-width="1"/>
<line x1="756.5" y1="411" x2="756.5" y2="444" stroke="#000" stroke-width="1"/>
<rect x="753.5" y="418.5" width="6" height="4" fill="#ff0000" stroke="#000" stroke-width="1"/>
<line x1="765.5" y1="376" x2="765.5" y2="425" stroke="#000" stroke-width="1"/>
<rect x="762.5" y="383.5" width="6" height="39" fill="#90ee90" stroke="#000" stroke-width="1"/>
<line x1="774.5" y1="372" x2="774.5" y2="405" stroke="#000" stroke-width="1"/>
<rect x="771.5" y="380.5" width="6" height="17" fill="#ff0000" stroke="#000" stroke-width="1"/>
<line x1="783.5" y1="383" x2="783.5" y2="451" stroke="#000" stroke-width="1"/>
<rect x="780.5" y="394.5" width="6" height="52" fill="#ff0000" stroke="#000" stroke-width="1"/>
<line x1="792.5" y1="435" x2="792.5" y2="490" stroke="#000" stroke-width="1"/>
<rect x="789.5" y="446.5" width="6" height="36" fill="#ff0000" stroke="#000" stroke-width="1"/>
<line x1="802.5" y1="459" x2="802.5" y2="490" stroke="#000" stroke-width="1"/>
<rect x="799.5" y="471.5" width="6" height="7" fill="#90ee90" stroke="#000" stroke-width="1"/>
<line x1="811.5" y1="459" x2="811.5" y2="492" stroke="#000" stroke-width="1"/>
<rect x="808.5" y="464.5" width="6" height="7" fill="#90ee90" stroke="#000" stroke-width="1"/>
<line x1="820.5" y1="450" x2="820.5" y2="490" stroke="#000" stroke-width="1"/>
<rect x="817.5" y="468.5" width="6" height="14" fill="#ff0000" stroke="#000" stroke-width="1"/>
<line x1="829.5" y1="464" x2="829.5" y2="497" stroke="#000" stroke-width="1"/>
<rect x="826.5" y="468.5" width="6" height="14" fill="#90ee90" stroke="#000" stroke-width="1"/>
<line x1="839.5" y1="471" x2="839.5" y2="497" stroke="#000" stroke-width="1"/>
<rect x="836.5" y="471.5" width="6" height="4" fill="#ff0000" stroke="#000" stroke-width="1"/>
<line x1="848.5" y1="460" x2="848.5" y2="486" stroke="#000" stroke-width="1"/>
<rect x="845.5" y="478.5" width="6" height="4" fill="#ff0000" stroke="#000" stroke-width="1"/>
<line x1="857.5" y1="485" x2="857.5" y2="507" stroke="#000" stroke-width="1"/>
<rect x="854.5" y="485.5" width="6" height="14" fill="#ff0000" stroke="#000" stroke-width="1"/>
<line x1="866.5" y1="446" x2="866.5" y2="504" stroke="#000" stroke-width="1"/>
<rect x="863.5" y="446.5" width="6" height="57" fill="#90ee90" stroke="#000" stroke-width="1"/>
<line x1="875.5" y1="435" x2="875.5" y2="465" stroke="#000" stroke-width="1"/>
<rect x="872.5" y="450.5" width="6" height="3" fill="#ff0000" stroke="#000" stroke-width="1"/>
<line x1="885.5" y1="424" x2="885.5" y2="454" stroke="#000" stroke-width="1"/>
<rect x="882.5" y="439.5" width="6" height="11" fill="#90ee90" stroke="#000" stroke-width="1"/>
<line x1="894.5" y1="426" x2="894.5" y2="454" stroke="#000" stroke-width="1"/>
<rect x="891.5" y="436.5" width="6" height="10" fill="#ff0000" stroke="#000" stroke-width="1"/>
<line x1="903.5" y1="446" x2="903.5" y2="476" stroke="#000" stroke-width="1"/>
<rect x="900.5" y="446.5" width="6" height="25" fill="#ff0000" stroke="#000" stroke-width="1"/>
<line x1="912.5" y1="446" x2="912.5" y2="486" stroke="#000" stroke-width="1"/>
<rect x="909.5" y="453.5" width="6" height="22" fill="#90ee90" stroke="#000" stroke-width="1"/>
<line x1="922.5" y1="438" x2="922.5" y2="461" stroke="#000" stroke-width="1"/>
<rect x="919.5" y="443.5" width="6" height="10" fill="#90ee90" stroke="#000" stroke-width="1"/>
<line x1="931.5" y1="443" x2="931.5" y2="472" stroke="#000" stroke-width="1"/>
<rect x="928.5" y="446.5" width="6" height="4" fill="#ff0000" stroke="#000" stroke-width="1"/>
<line x1="940.5" y1="376" x2="940.5" y2="447" stroke="#000" stroke-width="1"/>
<rect x="937.5" y="390.5" width="6" height="56" fill="#90ee90" stroke="#000" stroke-width="1"/>
<line x1="949.5" y1="355" x2="949.5" y2="395" stroke="#000" stroke-width="1"/>
<rect x="946.5" y="380.5" width="6" height="10" fill="#90ee90" stroke="#000" stroke-width="1"/>
<line x1="958.5" y1="359" x2="958.5" y2="388" stroke="#000" stroke-width="1"/>
<rect x="955.5" y="366.5" width="6" height="10" fill="#90ee90" stroke="#000" stroke-width="1"/>
<line x1="968.5" y1="331" x2="968.5" y2="370" stroke="#000" stroke-width="1"/>
<rect x="965.5" y="352.5" width="6" height="14" fill="#90ee90" stroke="#000" stroke-width="1"/>
<line x1="977.5" y1="345" x2="977.5" y2="367" stroke="#000" stroke-width="1"/>
<line x1="974" y1="352.5" x2="981" y2="352.5" stroke="#000" stroke-width="1"/>
<text x="700 707 714" y="388.4" font-size="11" fill="#000" stroke="#000" stroke-width="0.18" >PT1</text>
<line x1="700.4" y1="392.5" x2="737.1" y2="392.5" stroke="#191978" stroke-width="2.4" stroke-linecap="butt"/>
<text x="700 707 714" y="419" font-size="11" fill="#000" stroke="#000" stroke-width="0.18" >PT2</text>
<line x1="700.4" y1="422.6" x2="737.1" y2="422.6" stroke="#191978" stroke-width="2.4" stroke-linecap="butt"/>
<line x1="700.4" y1="574.3" x2="737.1" y2="574.3" stroke="#191978" stroke-width="2.4" stroke-linecap="butt"/>
<text x="737 744 750" y="586.8" font-size="11" fill="#000" stroke="#000" stroke-width="0.18" >SL1</text>
<text x="723 729 735 738 744 750 753 762 768 772 778 784" y="519.5" font-size="11" fill="#000" stroke="#000" stroke-width="0.18" >vstup market</text>
<text x="736 742 748 754 760 763 769" y="532" font-size="11" fill="#000" stroke="#000" stroke-width="0.18" >2317,25</text>
<line x1="691.4" y1="531.5" x2="728.7" y2="531.5" stroke="#191978" stroke-width="1" stroke-dasharray="3,2" stroke-linecap="butt"/>
<polygon points="700.5,541.5 706,547.5 702.8,547.5 702.8,561.8 698.2,561.8 698.2,547.5 695,547.5" fill="#00ff00" stroke="#000" stroke-width="0.8"/>
<text x="842 849 852 861 867 870 874 880 889 895 898 904 907 913 919 922 928 931 937 943 946 952 958 961 967" y="607.8" font-size="11" fill="#000" stroke="#000" stroke-width="0.18" >Time remaining = 00:00:40</text>
</g>
<line x1="38.5" y1="620" x2="38.5" y2="698" stroke="#dfdfdf" stroke-width="1"/>
<line x1="129.5" y1="620" x2="129.5" y2="698" stroke="#dfdfdf" stroke-width="1"/>
<line x1="221.5" y1="620" x2="221.5" y2="698" stroke="#dfdfdf" stroke-width="1"/>
<line x1="313.5" y1="620" x2="313.5" y2="698" stroke="#dfdfdf" stroke-width="1"/>
<line x1="404.5" y1="620" x2="404.5" y2="698" stroke="#dfdfdf" stroke-width="1"/>
<line x1="2" y1="693.5" x2="469.5" y2="693.5" stroke="#a8a8a8" stroke-width="1" stroke-linecap="butt"/>
<rect x="37" y="683" width="2" height="10" fill="#0000ff"/>
<rect x="46" y="644" width="2" height="49" fill="#0000ff"/>
<rect x="55" y="658" width="2" height="35" fill="#0000ff"/>
<rect x="64" y="667" width="2" height="26" fill="#0000ff"/>
<rect x="73" y="634" width="2" height="59" fill="#0000ff"/>
<rect x="83" y="646" width="2" height="47" fill="#0000ff"/>
<rect x="92" y="640" width="2" height="53" fill="#0000ff"/>
<rect x="101" y="655" width="2" height="38" fill="#0000ff"/>
<rect x="110" y="668" width="2" height="25" fill="#0000ff"/>
<rect x="119" y="657" width="2" height="36" fill="#0000ff"/>
<rect x="128" y="678" width="2" height="15" fill="#0000ff"/>
<rect x="138" y="628" width="2" height="65" fill="#0000ff"/>
<rect x="147" y="660" width="2" height="33" fill="#0000ff"/>
<rect x="156" y="669" width="2" height="24" fill="#0000ff"/>
<rect x="165" y="668" width="2" height="25" fill="#0000ff"/>
<rect x="174" y="667" width="2" height="26" fill="#0000ff"/>
<rect x="183" y="662" width="2" height="31" fill="#0000ff"/>
<rect x="193" y="667" width="2" height="26" fill="#0000ff"/>
<rect x="202" y="675" width="2" height="18" fill="#0000ff"/>
<rect x="211" y="672" width="2" height="21" fill="#0000ff"/>
<rect x="220" y="680" width="2" height="13" fill="#0000ff"/>
<rect x="229" y="679" width="2" height="14" fill="#0000ff"/>
<rect x="238" y="664" width="2" height="29" fill="#0000ff"/>
<rect x="247" y="679" width="2" height="14" fill="#0000ff"/>
<rect x="257" y="679" width="2" height="14" fill="#0000ff"/>
<rect x="266" y="684" width="2" height="9" fill="#0000ff"/>
<rect x="275" y="680" width="2" height="13" fill="#0000ff"/>
<rect x="284" y="684" width="2" height="9" fill="#0000ff"/>
<rect x="293" y="679" width="2" height="14" fill="#0000ff"/>
<rect x="302" y="680" width="2" height="13" fill="#0000ff"/>
<rect x="312" y="682" width="2" height="11" fill="#0000ff"/>
<rect x="321" y="682" width="2" height="11" fill="#0000ff"/>
<rect x="330" y="680" width="2" height="13" fill="#0000ff"/>
<rect x="339" y="680" width="2" height="13" fill="#0000ff"/>
<rect x="348" y="682" width="2" height="11" fill="#0000ff"/>
<rect x="357" y="681" width="2" height="12" fill="#0000ff"/>
<rect x="367" y="682" width="2" height="11" fill="#0000ff"/>
<rect x="376" y="683" width="2" height="10" fill="#0000ff"/>
<rect x="385" y="674" width="2" height="19" fill="#0000ff"/>
<rect x="394" y="674" width="2" height="19" fill="#0000ff"/>
<rect x="403" y="667" width="2" height="26" fill="#0000ff"/>
<rect x="412" y="668" width="2" height="25" fill="#0000ff"/>
<rect x="422" y="684" width="2" height="9" fill="#0000ff"/>
<rect x="431" y="685" width="2" height="8" fill="#0000ff"/>
<rect x="440" y="674" width="2" height="19" fill="#0000ff"/>
<rect x="449" y="684" width="2" height="9" fill="#0000ff"/>
<rect x="458" y="682" width="2" height="11" fill="#0000ff"/>
<rect x="467" y="686" width="2" height="7" fill="#0000ff"/>
<rect x="9" y="691" width="2" height="2" fill="#0000ff"/>
<rect x="18" y="690" width="2" height="3" fill="#0000ff"/>
<rect x="28" y="690" width="2" height="3" fill="#0000ff"/>
<text x="3 10 19 25 29 36 45 48 54 60 64 70 76 79 83 89 92 101 103 109 113" y="641.5" font-size="11" fill="#000" stroke="#000" stroke-width="0.18" >VOL(YM 03-12 (3 Min))</text>
<text x="3 11 14 20 26 32 38 41 49 52 58 61 67 74 78 84 90 96 100 103 106 112 118" y="696" font-size="11" fill="#000" stroke="#000" stroke-width="0.18" >© 2012 NinjaTrader, LLC</text>
<line x1="590.5" y1="620" x2="590.5" y2="698" stroke="#dfdfdf" stroke-width="1"/>
<line x1="682.5" y1="620" x2="682.5" y2="698" stroke="#dfdfdf" stroke-width="1"/>
<line x1="774.5" y1="620" x2="774.5" y2="698" stroke="#dfdfdf" stroke-width="1"/>
<line x1="866.5" y1="620" x2="866.5" y2="698" stroke="#dfdfdf" stroke-width="1"/>
<line x1="958.5" y1="620" x2="958.5" y2="698" stroke="#dfdfdf" stroke-width="1"/>
<line x1="548" y1="693.5" x2="990.5" y2="693.5" stroke="#a8a8a8" stroke-width="1" stroke-linecap="butt"/>
<rect x="589" y="667" width="2" height="26" fill="#0000ff"/>
<rect x="598" y="628" width="2" height="65" fill="#0000ff"/>
<rect x="607" y="629" width="2" height="64" fill="#0000ff"/>
<rect x="616" y="662" width="2" height="31" fill="#0000ff"/>
<rect x="626" y="653" width="2" height="40" fill="#0000ff"/>
<rect x="635" y="653" width="2" height="40" fill="#0000ff"/>
<rect x="644" y="648" width="2" height="45" fill="#0000ff"/>
<rect x="653" y="653" width="2" height="40" fill="#0000ff"/>
<rect x="663" y="668" width="2" height="25" fill="#0000ff"/>
<rect x="672" y="665" width="2" height="28" fill="#0000ff"/>
<rect x="681" y="682" width="2" height="11" fill="#0000ff"/>
<rect x="690" y="649" width="2" height="44" fill="#0000ff"/>
<rect x="699" y="663" width="2" height="30" fill="#0000ff"/>
<rect x="709" y="668" width="2" height="25" fill="#0000ff"/>
<rect x="718" y="669" width="2" height="24" fill="#0000ff"/>
<rect x="727" y="662" width="2" height="31" fill="#0000ff"/>
<rect x="736" y="665" width="2" height="28" fill="#0000ff"/>
<rect x="745" y="654" width="2" height="39" fill="#0000ff"/>
<rect x="755" y="676" width="2" height="17" fill="#0000ff"/>
<rect x="764" y="668" width="2" height="25" fill="#0000ff"/>
<rect x="773" y="672" width="2" height="21" fill="#0000ff"/>
<rect x="782" y="675" width="2" height="18" fill="#0000ff"/>
<rect x="791" y="657" width="2" height="36" fill="#0000ff"/>
<rect x="801" y="676" width="2" height="17" fill="#0000ff"/>
<rect x="810" y="678" width="2" height="15" fill="#0000ff"/>
<rect x="819" y="679" width="2" height="14" fill="#0000ff"/>
<rect x="828" y="675" width="2" height="18" fill="#0000ff"/>
<rect x="838" y="677" width="2" height="16" fill="#0000ff"/>
<rect x="847" y="678" width="2" height="15" fill="#0000ff"/>
<rect x="856" y="676" width="2" height="17" fill="#0000ff"/>
<rect x="865" y="679" width="2" height="14" fill="#0000ff"/>
<rect x="874" y="673" width="2" height="20" fill="#0000ff"/>
<rect x="884" y="673" width="2" height="20" fill="#0000ff"/>
<rect x="893" y="680" width="2" height="13" fill="#0000ff"/>
<rect x="902" y="678" width="2" height="15" fill="#0000ff"/>
<rect x="911" y="673" width="2" height="20" fill="#0000ff"/>
<rect x="921" y="678" width="2" height="15" fill="#0000ff"/>
<rect x="930" y="679" width="2" height="14" fill="#0000ff"/>
<rect x="939" y="676" width="2" height="17" fill="#0000ff"/>
<rect x="948" y="658" width="2" height="35" fill="#0000ff"/>
<rect x="957" y="673" width="2" height="20" fill="#0000ff"/>
<rect x="967" y="666" width="2" height="27" fill="#0000ff"/>
<rect x="976" y="680" width="2" height="13" fill="#0000ff"/>
<rect x="985" y="683" width="2" height="10" fill="#0000ff"/>
<rect x="552" y="688" width="2" height="5" fill="#0000ff"/>
<rect x="561" y="688" width="2" height="5" fill="#0000ff"/>
<rect x="570" y="689" width="2" height="4" fill="#0000ff"/>
<rect x="580" y="688" width="2" height="5" fill="#0000ff"/>
<text x="549 556 565 571 575 583 592 595 601 607 611 617 623 626 630 636 639 648 650 656 660" y="641.5" font-size="11" fill="#000" stroke="#000" stroke-width="0.18" >VOL(NQ 03-12 (3 Min))</text>
<text x="549 557 560 566 572 578 584 587 595 598 604 607 613 620 624 630 636 642 646 649 652 658 664" y="696" font-size="11" fill="#000" stroke="#000" stroke-width="0.18" >© 2012 NinjaTrader, LLC</text>
<line x1="0" y1="309.5" x2="530" y2="309.5" stroke="#000" stroke-width="1" stroke-linecap="butt"/>
<line x1="546" y1="309.5" x2="1051" y2="309.5" stroke="#000" stroke-width="1" stroke-linecap="butt"/>
<line x1="0" y1="619.5" x2="530" y2="619.5" stroke="#000" stroke-width="1" stroke-linecap="butt"/>
<line x1="546" y1="619.5" x2="1051" y2="619.5" stroke="#000" stroke-width="1" stroke-linecap="butt"/>
<line x1="0" y1="698.5" x2="470" y2="698.5" stroke="#000" stroke-width="1" stroke-linecap="butt"/>
<line x1="546" y1="698.5" x2="991" y2="698.5" stroke="#000" stroke-width="1" stroke-linecap="butt"/>
<line x1="469.5" y1="0" x2="469.5" y2="698" stroke="#000" stroke-width="1"/>
<line x1="469.5" y1="14.5" x2="475.5" y2="14.5" stroke="#000" stroke-width="1"/>
<text x="477 483 489 495 501 504 510" y="18.5" font-size="11" fill="#000" stroke="#000" stroke-width="0.18" >1271,00</text>
<line x1="469.5" y1="63.5" x2="475.5" y2="63.5" stroke="#000" stroke-width="1"/>
<text x="477 483 489 495 501 504 510" y="67.5" font-size="11" fill="#000" stroke="#000" stroke-width="0.18" >1269,00</text>
<line x1="469.5" y1="87.5" x2="475.5" y2="87.5" stroke="#000" stroke-width="1"/>
<text x="477 483 489 495 501 504 510" y="91.5" font-size="11" fill="#000" stroke="#000" stroke-width="0.18" >1268,00</text>
<line x1="469.5" y1="112.5" x2="475.5" y2="112.5" stroke="#000" stroke-width="1"/>
<text x="477 483 489 495 501 504 510" y="116.5" font-size="11" fill="#000" stroke="#000" stroke-width="0.18" >1267,00</text>
<line x1="469.5" y1="136.5" x2="475.5" y2="136.5" stroke="#000" stroke-width="1"/>
<text x="477 483 489 495 501 504 510" y="140.5" font-size="11" fill="#000" stroke="#000" stroke-width="0.18" >1266,00</text>
<line x1="469.5" y1="160.5" x2="475.5" y2="160.5" stroke="#000" stroke-width="1"/>
<text x="477 483 489 495 501 504 510" y="164.5" font-size="11" fill="#000" stroke="#000" stroke-width="0.18" >1265,00</text>
<line x1="469.5" y1="184.5" x2="475.5" y2="184.5" stroke="#000" stroke-width="1"/>
<text x="477 483 489 495 501 504 510" y="188.5" font-size="11" fill="#000" stroke="#000" stroke-width="0.18" >1264,00</text>
<line x1="469.5" y1="209.5" x2="475.5" y2="209.5" stroke="#000" stroke-width="1"/>
<text x="477 483 489 495 501 504 510" y="213.5" font-size="11" fill="#000" stroke="#000" stroke-width="0.18" >1263,00</text>
<line x1="469.5" y1="233.5" x2="475.5" y2="233.5" stroke="#000" stroke-width="1"/>
<text x="477 483 489 495 501 504 510" y="237.5" font-size="11" fill="#000" stroke="#000" stroke-width="0.18" >1262,00</text>
<line x1="469.5" y1="257.5" x2="475.5" y2="257.5" stroke="#000" stroke-width="1"/>
<text x="477 483 489 495 501 504 510" y="261.5" font-size="11" fill="#000" stroke="#000" stroke-width="0.18" >1261,00</text>
<line x1="469.5" y1="281.5" x2="475.5" y2="281.5" stroke="#000" stroke-width="1"/>
<text x="477 483 489 495 501 504 510" y="285.5" font-size="11" fill="#000" stroke="#000" stroke-width="0.18" >1260,00</text>
<line x1="469.5" y1="310" x2="469.5" y2="619" stroke="#000" stroke-width="1"/>
<line x1="469.5" y1="342.5" x2="475.5" y2="342.5" stroke="#000" stroke-width="1"/>
<text x="477 483 489 495 501" y="346.5" font-size="11" fill="#000" stroke="#000" stroke-width="0.18" >12310</text>
<line x1="469.5" y1="370.5" x2="475.5" y2="370.5" stroke="#000" stroke-width="1"/>
<text x="477 483 489 495 501" y="374.5" font-size="11" fill="#000" stroke="#000" stroke-width="0.18" >12300</text>
<line x1="469.5" y1="398.5" x2="475.5" y2="398.5" stroke="#000" stroke-width="1"/>
<text x="477 483 489 495 501" y="402.5" font-size="11" fill="#000" stroke="#000" stroke-width="0.18" >12290</text>
<line x1="469.5" y1="426.5" x2="475.5" y2="426.5" stroke="#000" stroke-width="1"/>
<text x="477 483 489 495 501" y="430.5" font-size="11" fill="#000" stroke="#000" stroke-width="0.18" >12280</text>
<line x1="469.5" y1="455.5" x2="475.5" y2="455.5" stroke="#000" stroke-width="1"/>
<text x="477 483 489 495 501" y="459.5" font-size="11" fill="#000" stroke="#000" stroke-width="0.18" >12270</text>
<line x1="469.5" y1="483.5" x2="475.5" y2="483.5" stroke="#000" stroke-width="1"/>
<text x="477 483 489 495 501" y="487.5" font-size="11" fill="#000" stroke="#000" stroke-width="0.18" >12260</text>
<line x1="469.5" y1="511.5" x2="475.5" y2="511.5" stroke="#000" stroke-width="1"/>
<text x="477 483 489 495 501" y="515.5" font-size="11" fill="#000" stroke="#000" stroke-width="0.18" >12250</text>
<line x1="469.5" y1="539.5" x2="475.5" y2="539.5" stroke="#000" stroke-width="1"/>
<text x="477 483 489 495 501" y="543.5" font-size="11" fill="#000" stroke="#000" stroke-width="0.18" >12240</text>
<line x1="469.5" y1="567.5" x2="475.5" y2="567.5" stroke="#000" stroke-width="1"/>
<text x="477 483 489 495 501" y="571.5" font-size="11" fill="#000" stroke="#000" stroke-width="0.18" >12230</text>
<line x1="469.5" y1="620" x2="469.5" y2="698" stroke="#000" stroke-width="1"/>
<line x1="469.5" y1="646.5" x2="475.5" y2="646.5" stroke="#000" stroke-width="1"/>
<text x="477 483 489 495" y="650.5" font-size="11" fill="#000" stroke="#000" stroke-width="0.18" >2000</text>
<line x1="469.5" y1="693.5" x2="475.5" y2="693.5" stroke="#000" stroke-width="1"/>
<text x="477" y="697.5" font-size="11" fill="#000" stroke="#000" stroke-width="0.18" >0</text>
<line x1="990.5" y1="0" x2="990.5" y2="698" stroke="#000" stroke-width="1"/>
<line x1="990.5" y1="29.5" x2="996.5" y2="29.5" stroke="#000" stroke-width="1"/>
<text x="998 1004 1010 1016 1019" y="33.5" font-size="11" fill="#000" stroke="#000" stroke-width="0.18" >742,0</text>
<line x1="990.5" y1="56.5" x2="996.5" y2="56.5" stroke="#000" stroke-width="1"/>
<text x="998 1004 1010 1016 1019" y="60.5" font-size="11" fill="#000" stroke="#000" stroke-width="0.18" >741,0</text>
<line x1="990.5" y1="84.5" x2="996.5" y2="84.5" stroke="#000" stroke-width="1"/>
<text x="998 1004 1010 1016 1019" y="88.5" font-size="11" fill="#000" stroke="#000" stroke-width="0.18" >740,0</text>
<line x1="990.5" y1="111.5" x2="996.5" y2="111.5" stroke="#000" stroke-width="1"/>
<text x="998 1004 1010 1016 1019" y="115.5" font-size="11" fill="#000" stroke="#000" stroke-width="0.18" >739,0</text>
<line x1="990.5" y1="139.5" x2="996.5" y2="139.5" stroke="#000" stroke-width="1"/>
<text x="998 1004 1010 1016 1019" y="143.5" font-size="11" fill="#000" stroke="#000" stroke-width="0.18" >738,0</text>
<line x1="990.5" y1="166.5" x2="996.5" y2="166.5" stroke="#000" stroke-width="1"/>
<text x="998 1004 1010 1016 1019" y="170.5" font-size="11" fill="#000" stroke="#000" stroke-width="0.18" >737,0</text>
<line x1="990.5" y1="194.5" x2="996.5" y2="194.5" stroke="#000" stroke-width="1"/>
<text x="998 1004 1010 1016 1019" y="198.5" font-size="11" fill="#000" stroke="#000" stroke-width="0.18" >736,0</text>
<line x1="990.5" y1="221.5" x2="996.5" y2="221.5" stroke="#000" stroke-width="1"/>
<text x="998 1004 1010 1016 1019" y="225.5" font-size="11" fill="#000" stroke="#000" stroke-width="0.18" >735,0</text>
<line x1="990.5" y1="249.5" x2="996.5" y2="249.5" stroke="#000" stroke-width="1"/>
<text x="998 1004 1010 1016 1019" y="253.5" font-size="11" fill="#000" stroke="#000" stroke-width="0.18" >734,0</text>
<line x1="990.5" y1="276.5" x2="996.5" y2="276.5" stroke="#000" stroke-width="1"/>
<text x="998 1004 1010 1016 1019" y="280.5" font-size="11" fill="#000" stroke="#000" stroke-width="0.18" >733,0</text>
<line x1="990.5" y1="310" x2="990.5" y2="619" stroke="#000" stroke-width="1"/>
<line x1="990.5" y1="324.5" x2="996.5" y2="324.5" stroke="#000" stroke-width="1"/>
<text x="998 1004 1010 1016 1022 1025 1031" y="328.5" font-size="11" fill="#000" stroke="#000" stroke-width="0.18" >2332,00</text>
<line x1="990.5" y1="352.5" x2="996.5" y2="352.5" stroke="#000" stroke-width="1"/>
<text x="998 1004 1010 1016 1022 1025 1031" y="356.5" font-size="11" fill="#000" stroke="#000" stroke-width="0.18" >2330,00</text>
<line x1="990.5" y1="380.5" x2="996.5" y2="380.5" stroke="#000" stroke-width="1"/>
<text x="998 1004 1010 1016 1022 1025 1031" y="384.5" font-size="11" fill="#000" stroke="#000" stroke-width="0.18" >2328,00</text>
<line x1="990.5" y1="408.5" x2="996.5" y2="408.5" stroke="#000" stroke-width="1"/>
<text x="998 1004 1010 1016 1022 1025 1031" y="412.5" font-size="11" fill="#000" stroke="#000" stroke-width="0.18" >2326,00</text>
<line x1="990.5" y1="436.5" x2="996.5" y2="436.5" stroke="#000" stroke-width="1"/>
<text x="998 1004 1010 1016 1022 1025 1031" y="440.5" font-size="11" fill="#000" stroke="#000" stroke-width="0.18" >2324,00</text>
<line x1="990.5" y1="464.5" x2="996.5" y2="464.5" stroke="#000" stroke-width="1"/>
<text x="998 1004 1010 1016 1022 1025 1031" y="468.5" font-size="11" fill="#000" stroke="#000" stroke-width="0.18" >2322,00</text>
<line x1="990.5" y1="492.5" x2="996.5" y2="492.5" stroke="#000" stroke-width="1"/>
<text x="998 1004 1010 1016 1022 1025 1031" y="496.5" font-size="11" fill="#000" stroke="#000" stroke-width="0.18" >2320,00</text>
<line x1="990.5" y1="521.5" x2="996.5" y2="521.5" stroke="#000" stroke-width="1"/>
<text x="998 1004 1010 1016 1022 1025 1031" y="525.5" font-size="11" fill="#000" stroke="#000" stroke-width="0.18" >2318,00</text>
<line x1="990.5" y1="549.5" x2="996.5" y2="549.5" stroke="#000" stroke-width="1"/>
<text x="998 1004 1010 1016 1022 1025 1031" y="553.5" font-size="11" fill="#000" stroke="#000" stroke-width="0.18" >2316,00</text>
<line x1="990.5" y1="577.5" x2="996.5" y2="577.5" stroke="#000" stroke-width="1"/>
<text x="998 1004 1010 1016 1022 1025 1031" y="581.5" font-size="11" fill="#000" stroke="#000" stroke-width="0.18" >2314,00</text>
<line x1="990.5" y1="605.5" x2="996.5" y2="605.5" stroke="#000" stroke-width="1"/>
<text x="998 1004 1010 1016 1022 1025 1031" y="609.5" font-size="11" fill="#000" stroke="#000" stroke-width="0.18" >2312,00</text>
<line x1="990.5" y1="620" x2="990.5" y2="698" stroke="#000" stroke-width="1"/>
<line x1="990.5" y1="629.5" x2="996.5" y2="629.5" stroke="#000" stroke-width="1"/>
<text x="998 1004 1010 1016" y="633.5" font-size="11" fill="#000" stroke="#000" stroke-width="0.18" >4000</text>
<line x1="990.5" y1="661.5" x2="996.5" y2="661.5" stroke="#000" stroke-width="1"/>
<text x="998 1004 1010 1016" y="665.5" font-size="11" fill="#000" stroke="#000" stroke-width="0.18" >2000</text>
<line x1="990.5" y1="693.5" x2="996.5" y2="693.5" stroke="#000" stroke-width="1"/>
<text x="998" y="697.5" font-size="11" fill="#000" stroke="#000" stroke-width="0.18" >0</text>
<polygon points="469.5,40.5 476.0,34.5 518.5,34.5 518.5,46.5 476.0,46.5" fill="#ffa500" stroke="#000" stroke-width="1"/>
<text x="478 484 490 496 502 505 511" y="44.5" font-size="11" fill="#000" stroke="#000" stroke-width="0.18" >1270,00</text>
<polygon points="469.5,26.5 476.0,20.5 518.5,20.5 518.5,32.5 476.0,32.5" fill="#a0a0a0" stroke="#000" stroke-width="1"/>
<text x="478 484 490 496 502 505 511" y="30.5" font-size="11" fill="#000" stroke="#000" stroke-width="0.18" >1270,50</text>
<polygon points="469.5,112.5 476.0,106.5 518.5,106.5 518.5,118.5 476.0,118.5" fill="#006400" stroke="#000" stroke-width="1"/>
<text x="478 484 490 496 502 505 511" y="116.5" font-size="11" fill="#fff" stroke="#fff" stroke-width="0.18" >1267,00</text>
<polygon points="469.5,105.5 476.0,99.5 518.5,99.5 518.5,111.5 476.0,111.5" fill="#7b68ee" stroke="#000" stroke-width="1"/>
<text x="478 484 490 496 502 505 511" y="109.5" font-size="11" fill="#000" stroke="#000" stroke-width="0.18" >1267,25</text>
<polygon points="469.5,127.5 476.0,121.5 518.5,121.5 518.5,133.5 476.0,133.5" fill="#006400" stroke="#000" stroke-width="1"/>
<text x="478 484 490 496 502 505 511" y="131.5" font-size="11" fill="#fff" stroke="#fff" stroke-width="0.18" >1266,35</text>
<polygon points="469.5,263.5 476.0,257.5 518.5,257.5 518.5,269.5 476.0,269.5" fill="#ff69b4" stroke="#000" stroke-width="1"/>
<text x="478 484 490 496 502 505 511" y="267.5" font-size="11" fill="#000" stroke="#000" stroke-width="0.18" >1260,75</text>
<polygon points="469.5,287.5 476.0,281.5 518.5,281.5 518.5,293.5 476.0,293.5" fill="#ff0000" stroke="#000" stroke-width="1"/>
<text x="478 484 490 496 502 505 511" y="291.5" font-size="11" fill="#fff" stroke="#fff" stroke-width="0.18" >1259,75</text>
<polygon points="469.5,331.5 476.0,325.5 509.5,325.5 509.5,337.5 476.0,337.5" fill="#7b68ee" stroke="#000" stroke-width="1"/>
<text x="478 484 490 496 502" y="335.5" font-size="11" fill="#000" stroke="#000" stroke-width="0.18" >12313</text>
<polygon points="469.5,342.5 476.0,336.5 509.5,336.5 509.5,348.5 476.0,348.5" fill="#a0a0a0" stroke="#000" stroke-width="1"/>
<text x="478 484 490 496 502" y="346.5" font-size="11" fill="#000" stroke="#000" stroke-width="0.18" >12310</text>
<polygon points="469.5,370.5 476.0,364.5 509.5,364.5 509.5,376.5 476.0,376.5" fill="#006400" stroke="#000" stroke-width="1"/>
<text x="478 484 490 496 502" y="374.5" font-size="11" fill="#fff" stroke="#fff" stroke-width="0.18" >12300</text>
<polygon points="469.5,426.5 476.0,420.5 509.5,420.5 509.5,432.5 476.0,432.5" fill="#006400" stroke="#000" stroke-width="1"/>
<text x="478 484 490 496 502" y="430.5" font-size="11" fill="#fff" stroke="#fff" stroke-width="0.18" >12280</text>
<polygon points="469.5,530.5 476.0,524.5 509.5,524.5 509.5,536.5 476.0,536.5" fill="#ff69b4" stroke="#000" stroke-width="1"/>
<text x="478 484 490 496 502" y="534.5" font-size="11" fill="#000" stroke="#000" stroke-width="0.18" >12243</text>
<polygon points="469.5,597.5 476.0,591.5 509.5,591.5 509.5,603.5 476.0,603.5" fill="#ff0000" stroke="#000" stroke-width="1"/>
<text x="478 484 490 496 502" y="601.5" font-size="11" fill="#fff" stroke="#fff" stroke-width="0.18" >12219</text>
<polygon points="469.5,686.5 476.0,680.5 496.5,680.5 496.5,692.5 476.0,692.5" fill="#0000ff" stroke="#000" stroke-width="1"/>
<text x="478 484 490" y="690.5" font-size="11" fill="#fff" stroke="#fff" stroke-width="0.18" >291</text>
<polygon points="990.5,29.5 997.0,23.5 1028,23.5 1028,35.5 997.0,35.5" fill="#a0a0a0" stroke="#000" stroke-width="1"/>
<text x="999 1005 1011 1017 1020" y="33.5" font-size="11" fill="#000" stroke="#000" stroke-width="0.18" >742,0</text>
<polygon points="990.5,76.5 997.0,70.5 1028,70.5 1028,82.5 997.0,82.5" fill="#a0a0a0" stroke="#000" stroke-width="1"/>
<text x="999 1005 1011 1017 1020" y="80.5" font-size="11" fill="#000" stroke="#000" stroke-width="0.18" >740,3</text>
<polygon points="990.5,130.5 997.0,124.5 1028,124.5 1028,136.5 997.0,136.5" fill="#a0a0a0" stroke="#000" stroke-width="1"/>
<text x="999 1005 1011 1017 1020" y="134.5" font-size="11" fill="#000" stroke="#000" stroke-width="0.18" >738,3</text>
<polygon points="990.5,208.5 997.0,202.5 1028,202.5 1028,214.5 997.0,214.5" fill="#a0a0a0" stroke="#000" stroke-width="1"/>
<text x="999 1005 1011 1017 1020" y="212.5" font-size="11" fill="#000" stroke="#000" stroke-width="0.18" >735,5</text>
<polygon points="990.5,287.5 997.0,281.5 1028,281.5 1028,293.5 997.0,293.5" fill="#a0a0a0" stroke="#000" stroke-width="1"/>
<text x="999 1005 1011 1017 1020" y="291.5" font-size="11" fill="#000" stroke="#000" stroke-width="0.18" >732,6</text>
<polygon points="990.5,341.5 997.0,335.5 1039.5,335.5 1039.5,347.5 997.0,347.5" fill="#a0a0a0" stroke="#000" stroke-width="1"/>
<text x="999 1005 1011 1017 1023 1026 1032" y="345.5" font-size="11" fill="#000" stroke="#000" stroke-width="0.18" >2330,75</text>
<polygon points="990.5,329.5 997.0,323.5 1039.5,323.5 1039.5,335.5 997.0,335.5" fill="#a0a0a0" stroke="#000" stroke-width="1"/>
<text x="999 1005 1011 1017 1023 1026 1032" y="333.5" font-size="11" fill="#000" stroke="#000" stroke-width="0.18" >2331,50</text>
<polygon points="990.5,366.5 997.0,360.5 1039.5,360.5 1039.5,372.5 997.0,372.5" fill="#a0a0a0" stroke="#000" stroke-width="1"/>
<text x="999 1005 1011 1017 1023 1026 1032" y="370.5" font-size="11" fill="#000" stroke="#000" stroke-width="0.18" >2329,00</text>
<polygon points="990.5,432.5 997.0,426.5 1039.5,426.5 1039.5,438.5 997.0,438.5" fill="#a0a0a0" stroke="#000" stroke-width="1"/>
<text x="999 1005 1011 1017 1023 1026 1032" y="436.5" font-size="11" fill="#000" stroke="#000" stroke-width="0.18" >2324,12</text>
<polygon points="990.5,425.5 997.0,419.5 1039.5,419.5 1039.5,431.5 997.0,431.5" fill="#a0a0a0" stroke="#000" stroke-width="1"/>
<text x="999 1005 1011 1017 1023 1026 1032" y="429.5" font-size="11" fill="#000" stroke="#000" stroke-width="0.18" >2324,75</text>
<polygon points="990.5,456.5 997.0,450.5 1039.5,450.5 1039.5,462.5 997.0,462.5" fill="#a0a0a0" stroke="#000" stroke-width="1"/>
<text x="999 1005 1011 1017 1023 1026 1032" y="460.5" font-size="11" fill="#000" stroke="#000" stroke-width="0.18" >2322,55</text>
<polygon points="990.5,538.5 997.0,532.5 1039.5,532.5 1039.5,544.5 997.0,544.5" fill="#a0a0a0" stroke="#000" stroke-width="1"/>
<text x="999 1005 1011 1017 1023 1026 1032" y="542.5" font-size="11" fill="#000" stroke="#000" stroke-width="0.18" >2316,75</text>
<polygon points="990.5,684.5 997.0,678.5 1017.2,678.5 1017.2,690.5 997.0,690.5" fill="#a0a0a0" stroke="#000" stroke-width="1"/>
<text x="999 1005 1011" y="688.5" font-size="11" fill="#000" stroke="#000" stroke-width="0.18" >606</text>
<line x1="38.5" y1="698" x2="38.5" y2="703" stroke="#000" stroke-width="1"/>
<text x="24 30 36 39 45" y="715" font-size="11" fill="#000" stroke="#000" stroke-width="0.18" >15:30</text>
<line x1="129.5" y1="698" x2="129.5" y2="703" stroke="#000" stroke-width="1"/>
<text x="115 121 127 130 136" y="715" font-size="11" fill="#000" stroke="#000" stroke-width="0.18" >16:00</text>
<line x1="221.5" y1="698" x2="221.5" y2="703" stroke="#000" stroke-width="1"/>
<text x="207 213 219 222 228" y="715" font-size="11" fill="#000" stroke="#000" stroke-width="0.18" >16:30</text>
<line x1="313.5" y1="698" x2="313.5" y2="703" stroke="#000" stroke-width="1"/>
<text x="299 305 311 314 320" y="715" font-size="11" fill="#000" stroke="#000" stroke-width="0.18" >17:00</text>
<line x1="404.5" y1="698" x2="404.5" y2="703" stroke="#000" stroke-width="1"/>
<text x="390 396 402 405 411" y="715" font-size="11" fill="#000" stroke="#000" stroke-width="0.18" >17:30</text>
<line x1="590.5" y1="698" x2="590.5" y2="703" stroke="#000" stroke-width="1"/>
<text x="576 582 588 591 597" y="715" font-size="11" fill="#000" stroke="#000" stroke-width="0.18" >15:30</text>
<line x1="682.5" y1="698" x2="682.5" y2="703" stroke="#000" stroke-width="1"/>
<text x="668 674 680 683 689" y="715" font-size="11" fill="#000" stroke="#000" stroke-width="0.18" >16:00</text>
<line x1="774.5" y1="698" x2="774.5" y2="703" stroke="#000" stroke-width="1"/>
<text x="760 766 772 775 781" y="715" font-size="11" fill="#000" stroke="#000" stroke-width="0.18" >16:30</text>
<line x1="866.5" y1="698" x2="866.5" y2="703" stroke="#000" stroke-width="1"/>
<text x="852 858 864 867 873" y="715" font-size="11" fill="#000" stroke="#000" stroke-width="0.18" >17:00</text>
<line x1="958.5" y1="698" x2="958.5" y2="703" stroke="#000" stroke-width="1"/>
<text x="944 950 956 959 965" y="715" font-size="11" fill="#000" stroke="#000" stroke-width="0.18" >17:30</text>
<rect x="506" y="0" width="24" height="23.5" fill="#6f7f91"/>
<rect x="507.5" y="1.5" width="21" height="21" rx="2.5" fill="#f0f0f0" stroke="#8a8a8a" stroke-width="1"/>
<rect x="508.5" y="2.5" width="19" height="19" rx="2" fill="#efefef" stroke="#ffffff" stroke-width="1"/>
<polygon points="512.8,7.6 523.2,7.6 518,13.2" fill="#000" stroke="#fff" stroke-width="0.6"/>
<rect x="1027" y="0" width="24" height="23.5" fill="#6f7f91"/>
<rect x="1028.5" y="1.5" width="21" height="21" rx="2.5" fill="#f0f0f0" stroke="#8a8a8a" stroke-width="1"/>
<rect x="1029.5" y="2.5" width="19" height="19" rx="2" fill="#efefef" stroke="#ffffff" stroke-width="1"/>
<polygon points="1033.8,7.6 1044.2,7.6 1039,13.2" fill="#000" stroke="#fff" stroke-width="0.6"/>
</svg>
</body></html>
